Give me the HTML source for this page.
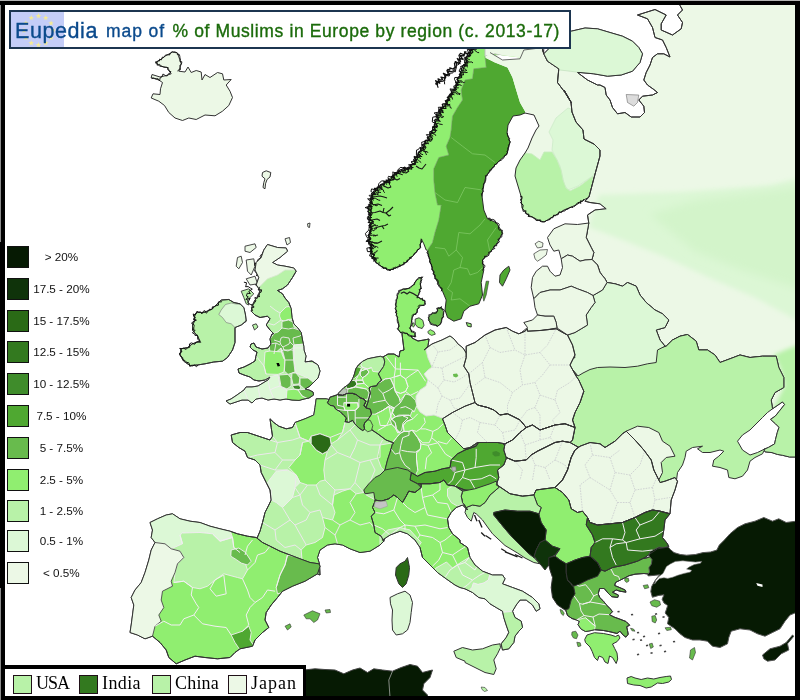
<!DOCTYPE html>
<html lang="en">
<head>
<meta charset="utf-8">
<title>Eupedia map of % of Muslims in Europe by region (c. 2013-17)</title>
<style>
html,body{margin:0;padding:0;background:#fff;}
body{width:800px;height:700px;position:relative;overflow:hidden;font-family:"Liberation Sans",Arial,sans-serif;}
#frame{position:absolute;left:0;top:0;width:800px;height:700px;box-sizing:border-box;border-style:solid;border-color:#000;border-width:5px 5px 4px 5px;pointer-events:none;z-index:5;}
#title{position:absolute;left:9px;top:10px;width:562px;height:39px;box-sizing:border-box;border:2px solid #1c3550;background:#fff;z-index:6;white-space:nowrap;overflow:hidden;}
#title .flag{position:absolute;left:0;top:0;width:53px;height:35px;background:#c4cdf8;}
#title .t{position:absolute;top:1.5px;line-height:35px;-webkit-text-stroke:0.35px currentColor;}
#title .eu{left:4px;font-size:21.5px;color:#0b4a8c;letter-spacing:0.585px;}
#title .mo{left:95px;font-size:17.5px;color:#0b4a8c;letter-spacing:0.917px;}
#title .gr{left:161.5px;font-size:17.5px;color:#1b6b0b;letter-spacing:0.614px;}
#leg{position:absolute;left:0;top:0;z-index:6;font-size:11.7px;color:#111;}
#leg .sw{position:absolute;left:7px;width:22px;height:22px;box-sizing:border-box;border:1px solid #111;}
#leg .lb{position:absolute;left:29.4px;width:64px;text-align:center;line-height:22px;white-space:nowrap;}
#bl{position:absolute;left:5px;top:665px;width:301px;height:31px;box-sizing:border-box;border-top:4px solid #000;border-right:3px solid #000;background:#fff;z-index:6;font-family:"Liberation Serif","Times New Roman",serif;font-size:18px;color:#000;white-space:nowrap;}
#bl .sw{position:absolute;top:6px;width:19px;height:19px;box-sizing:border-box;border:1px solid #201018;}
#bl .lb{position:absolute;top:2px;line-height:24px;}
</style>
</head>
<body>
<svg width="800" height="700" viewBox="0 0 800 700" style="position:absolute;left:0;top:0">
<defs>
<clipPath id="c-norway"><path d="M485,56.2 486.2,67.5 473.8,68.8 472.5,78.8 465,80 461.2,90 462.5,100 457.5,107.5 452.5,116.2 451.2,130 450,137.5 446.2,146.2 448.8,155 438.8,157.5 433.8,168.8 433.8,180 435,192.5 437.5,205 441.2,205 438.8,220 435,232.5 432.5,242.5 427.5,250 426.2,250 423.8,243.8 421.2,238.8 420,247.5 413.8,255 407.5,261.2 400,266.2 390,270 382.5,267.5 375,261.2 371.2,252.5 368.8,240 370,225 368.8,210 370,202.5 375,190 385,182.5 397.5,172.5 411.2,166.2 422.5,147.5 432.5,132.5 437.5,115 447.5,100 455,87.5 460,75 465,62.5 470,51.2 480,40 520,35 535,40 535,52.5 520,57.5 500,55Z"/></clipPath>
<clipPath id="c-france"><path d="M316.2,398.8 315,407.5 313.8,415 305,418.8 295,422.5 292.5,427.5 286.2,428.8 278.8,426.2 273.8,422.5 270,418.8 271.2,427.5 272.5,436.2 270,440 262.5,437.5 255,435 247.5,432.5 240,432.5 231.2,435 232.5,442.5 238.8,447.5 245,451.2 247.5,457.5 255,460 260,465 261.2,472.5 266.2,482.5 270,490 271.2,500 268.8,505 265,512.5 262.5,522.5 260,531.2 257.5,537 255,545 320,575 319.5,564 317.5,557.5 320,550 327.5,545 335,543.8 342.5,545 350,548.8 360,552.5 370,551.2 380,545 383.8,541.2 385,536.2 378.8,532.5 377.5,525 375,516.2 378.8,512.5 376.2,507.5 378.8,501.2 377.5,491.2 370,491.2 367.5,488.8 372.5,486.2 378.8,480 383.8,477.5 388.8,472.5 391.2,460 393.8,452.5 396.2,443.8 387.5,436.2 380,430 373.8,426.2 367.5,425 362.5,423.8 357.5,420 355,416.2 350,416.2 348.8,413.8 345,410 340,406.2 336.2,402.5 332.5,400.5 326.2,398.8Z"/></clipPath>
<clipPath id="c-germany"><path d="M383,357 388,354 394,354 399,357 400,351 404,350 403,342 402,334 403,331 410,332 412,338 418,341 424,340 429,339 428,346 424,350 432,344 442,340 450,336 454,339 458,344 463,348 468,356 466,366 469,374 472,384 475,394 477,403 466,409 454,415 446,420 448,425 450,432 458,440 466,449 465,453.8 457.5,457.5 451.2,463.8 450,471.2 442.5,472.5 435,475 425,476.2 417.5,480 411.2,476.2 407.5,473.8 397.5,471.2 385,473 385,470 387.5,460 390,452.5 392.5,443.8 394,443 386,440 378,434 372,430 370,427 367,418 368,412 365,406 367,400 370,394 368,388 372,382 377,378 379,372 382,366 381,358Z"/></clipPath>
<clipPath id="c-iberia"><path d="M256.2,537.5 247.5,536.2 237.5,533.8 230,531.2 220,528.8 210,526.2 200,522.5 190,521.2 180,518.8 172.5,513.8 166.2,515 157.5,518.8 150,522.5 152.5,530 151.2,537.5 155,542.5 151.2,550 148.8,560 145,572.5 141.2,582.5 135,590 131.2,597.5 133.8,605 132.5,615 131.2,625 130,632.5 137.5,635 145,638.8 152.5,636.2 160,642.5 166.2,650 168.8,657.5 176.2,663.8 185,660 195,656.2 205,657.5 217.5,658.8 230,657.5 235,652.5 240,648.8 252.5,646.2 255,640 262.5,632.5 268.8,627.5 265,620 266.2,612.5 271.2,605 277.5,597.5 282.5,591.2 292.5,586.2 305,581.2 317.5,573.8 320,566.2 318.8,563.8 310,562.5 300,558.8 290,555 280,551.2 270,546.2 262.5,542.5Z"/></clipPath>
<clipPath id="c-gb"><path d="M267.5,244.5 277.5,247.5 286.2,248 287.5,251.2 280,257.5 272.5,262.5 277.5,265 285,266.2 293.8,268 296.2,271.2 292.5,277.5 287.5,285 282.5,288.8 277.5,290.5 282.5,293.8 285,298 288.8,302.5 291.2,308.8 292,317.5 293.8,323.8 297.5,327.5 301.2,332.5 302.5,340 303.8,346.2 304,350 306,356 305,362 312,361 318,365 320,371 318,378 314,382 310,386 305,389 309,390 313,392 313.6,395 309,398 304,399 299,400.4 292,400 286,399 280,400 274,399 268,400 262,398 256,399 252,403 248,400 242,400 236,402 230,404 226,401 231,399 237,395 244,390 246,387 252,387 258,386 263,383 268,380 270,377 265,380 259,381 254,380 250,377 244,375 239,373 238,369 244,367 250,364 255,361 256,356 257,352 253,350 250,347 251,344 254,343 256,347 262,349 268,348 271,344 270,339 272,334 273.8,333.8 270,330 266.2,325 270,318.8 267.5,316.2 260,317.5 255,315 251.2,311.2 252.5,305 255,300 258.8,296.2 260,290 256.2,285 258.8,277.5 255,270 256.2,262.5 261.2,257.5 263.8,250Z"/></clipPath>
<clipPath id="c-sweden"><path d="M427.5,250 432.5,242.5 435,232.5 438.8,220 441.2,205 437.5,205 435,192.5 433.8,180 433.8,168.8 438.8,157.5 448.8,155 446.2,146.2 450,137.5 451.2,130 452.5,116.2 457.5,107.5 462.5,100 461.2,90 465,80 472.5,78.8 473.8,68.8 486.2,67.5 485,56.2 485,57.5 495,62.5 507.5,67.5 512.5,77.5 516.2,90 520,102.5 525,111.2 525,113 520,115 513,116 508,125 507,133 510,142 507,154 498,162 492,168 486,176 484,184 482,196 483.8,210 487.5,218.8 496.2,222.5 502.5,232.5 497.5,242.5 490,252.5 482.5,260 483.8,270 481.2,282.5 482.5,295 478.8,303.8 470,306.2 463.8,311.2 461.2,318.8 453.8,321.2 447.5,317.5 445,310 446.2,300 442.5,291.2 435,277.5 431.2,265 427.5,251.2Z"/></clipPath>
<clipPath id="c-poland"><path d="M466.2,346.2 475,342.5 485,335 495,330 506.2,327.5 512.5,331.2 518.8,333.8 525,331.2 527.5,328.8 527.5,331.2 540,330.5 556.2,328.8 565,333.8 567.5,335 572.5,345 575,355 570,365 576.2,376.2 578.8,380 583.8,391.2 580,402.5 575,412.5 572.5,420 575,427.5 565,423.8 555,425 547.5,427.5 540,430 532.5,425 526.2,427.5 520,420 512.5,416.2 507.5,413.8 500,415 493.8,410 487.5,407.5 477.5,405 475,402.5 472.5,392.5 470,382.5 468.8,373.8 463.8,366.2 466.2,357.5Z"/></clipPath>
<clipPath id="c-slovakia"><path d="M526.2,427.5 532.5,425 540,430 547.5,427.5 555,425 565,423.8 575,427.5 572.5,440 570,442.5 562.5,441.2 555,442.5 545,447.5 537.5,451.2 531.2,455 526.2,460 515,461.2 506.2,457.5 503.8,450 505,443.8 512.5,440 520,432.5Z"/></clipPath>
<clipPath id="c-ireland"><path d="M197.5,312.5 203.8,312.5 211.2,309.5 216.2,305 221.2,300 228.8,299.5 233.8,302.5 240,303.8 243.8,307.5 245.5,315 246.2,321.2 241.2,325 235,327.5 235,335 235,342.5 232.5,350 227.5,357.5 222.5,361.2 213.8,362 205,363.8 197.5,365 190,365.5 183.8,361.2 180,355 181.2,348.8 187.5,347.5 192.5,343.8 200,341.2 197.5,336.2 192.5,330 192.5,325 195,320 193.8,315Z"/></clipPath>
<clipPath id="c-greece"><path d="M572.7,584 587,575.7 596.7,571.2 600.5,564.5 609.5,563.7 620,560 632,560 647,557.8 653,555.5 656,563 654.5,566 650,574.2 644,573.5 635,574.2 629,575.7 624.5,578 620,580.2 615.5,582.5 614.7,585.5 620,587.7 625.2,590 626,592.2 620,591.2 616.2,590 612.5,592.2 618.5,595.2 617.7,597.5 611.7,596.7 608,593 604.2,588.5 599.7,588.5 598.2,593.7 599.7,597.5 603.5,601.2 606.5,605 610.2,608.7 612.5,611.7 609.5,614.7 614,617 620,619.2 626,621.5 629.7,625.2 626.7,626.7 627.5,630.5 628.2,634.2 626,637.2 623,635 620,631.2 617,633.5 611,632 603.5,630.5 594.5,629.7 590,630.8 585.5,631.5 581,629 578,624.5 579.5,621.5 576.5,620 572,618.5 567.5,615.5 566,611 565.2,607.2 568.2,601.2 572,595.2 572.7,588.5Z"/></clipPath>
<clipPath id="c-italy"><path d="M383.8,541.2 381.2,536.2 375,532.5 373.8,525 371.2,516.2 375,512.5 372.5,507.5 375,501.2 375,500 381.2,501.2 388.8,498.8 393.8,495 397.5,497.5 402.5,502.5 406.2,496.2 408.8,491.2 415,492.5 421.2,487.5 421.2,483.8 430,483.8 440,482.5 443.8,480 447.5,485 455,486.2 462.5,491.2 461.2,496.2 462.5,502.5 466.2,507.5 467.5,510 462.5,505 456.2,507.5 451.2,512.5 447.5,518.8 448.8,527.5 452.5,533.8 460,540 460,542.5 467.5,547.5 470,557.5 475,565 482.5,571.2 492.5,575 502.5,575 505,578.8 502.5,583.8 512.5,587.5 522.5,591.2 532.5,597.5 538.8,603.8 540,608.8 536.2,611.2 532.5,605 526.2,600 520,600 516.2,605 512.5,611.2 515,617.5 521.2,621.2 522.5,627.5 518.8,631.2 515,636.2 513.8,642.5 508.8,648.8 502.5,650 501.2,643.8 506.2,637.5 508.8,632.5 506.2,625 503.8,617.5 502.5,611.2 496.2,607.5 490,603.8 485,598.8 478.8,597.5 472.5,592.5 465,588.8 460,587.5 455,585 446.2,578.8 437.5,572.5 430,565 422.5,557.5 420,547.5 415,540 407.5,533.8 400,531.2 390,535 382.5,540Z"/></clipPath>
<clipPath id="c-hungary"><path d="M506.2,457.5 515,461.2 526.2,460 531.2,455 537.5,451.2 545,447.5 555,442.5 562.5,441.2 570,442.5 578.8,447.5 580,446.2 575,450 571.2,457.5 567.5,470 562.5,480 555,487.5 545,488.8 536.2,490 533.8,495 522.5,496.2 510,493.8 498.8,486.2 496.2,485 498.8,477.5 497.5,470 503.8,465 506.2,458.8Z"/></clipPath>
<clipPath id="c-belgium"><path d="M330,397.2 337.5,394.7 342.6,395.3 347.6,393.4 352.6,393.4 356.4,394.7 360.2,397.8 364,399.1 365.8,401.6 364,405.3 365.8,407.9 370.3,409.1 371.5,414.2 369,417.9 367.7,419.8 364.6,423 364,425.5 364.6,429.2 362.7,430.5 358.9,428 355.2,424.2 352.6,420.4 348.9,422.3 345.1,421.7 346.4,417.9 343.8,415.4 340.1,411.6 335.7,409.1 333.8,406 330,405.3 327.5,402.8Z"/></clipPath>
<clipPath id="c-netherlands"><path d="M383.5,357.5 380.3,356.3 374,357.5 367.7,358.8 362.7,361.3 358.3,365.1 355.8,368.9 354.5,373.9 352.6,378.9 350.1,382.7 347.6,385.2 343.8,387.7 341.3,390.3 338.8,392.8 337.5,394.7 342.6,395.3 347.6,393.4 352.6,393.4 356.4,394.7 360.2,397.8 364,399.1 365.8,401.6 364,405.3 365.8,407.9 367.7,402.8 369,397.8 370.3,392.8 369,387.7 371.5,386.5 376.5,385.8 378.4,382.7 381.6,380.2 379.7,376.4 378.4,373.9 380.9,370.1 383.5,366.4 384.7,361.9Z"/></clipPath>
<clipPath id="c-czech"><path d="M475,402.5 477.5,405 487.5,407.5 493.8,410 500,415 507.5,413.8 512.5,416.2 520,420 526.2,427.5 520,432.5 512.5,440 505,443.8 497.5,442.5 487.5,442.5 477.5,442.5 470,447.5 463.8,448.8 455,440 447.5,432.5 445,425 442.5,418.8 452.5,412.5 465,406.2Z"/></clipPath>
<clipPath id="c-finland"><path d="M485,57.5 495,62.5 507.5,67.5 512.5,77.5 516.2,90 520,102.5 525,111.2 534,115 539,126 536,130 532,138 528,148 525,153 520,160 516,168 515,176 518,186 521,196 522,208 528,215 538,220 544,222 554,216 564,210 576,205 584,200 589,197 594,178 600,156 600,150 594,144 584,139 583,130 576,122 572,112 571,102 564,90 571.2,102.5 565,92.5 557.5,82.5 558.8,68.8 547.5,61.2 543.8,53.8 543.8,47.5 523.8,50 520,58.8 502.5,60 490,52.5Z"/></clipPath>
<clipPath id="c-bulgaria"><path d="M587.5,517.5 590,522.5 597.5,525 610,523.8 622.5,522.5 635,517.5 645,512.5 652.5,510 660,511.2 670,513.8 665,520 663.8,530 662.5,537.5 667.5,543.8 668.8,547 657.5,548.8 650,553.8 645,557.5 637.5,561.2 625,565 612.5,567.5 605,571.2 601.2,570 597.5,562.5 590,556.2 591.2,547.5 595,542.5 592.5,535 586.2,525Z"/></clipPath>
<clipPath id="c-austria"><path d="M411.2,472.5 417.5,476.2 425,472.5 435,471.2 442.5,468.8 450,467.5 451.2,460 457.5,453.8 465,450 476.2,446.2 480,440 490,441.2 502.5,442.5 507.5,450 508.8,457.5 503.8,465 502.5,472.5 500,480 490,486.2 481.2,488.8 475,491.2 465,490 455,486.2 447.5,485 443.8,480 440,482.5 430,483.8 421.2,483.8 417.5,483.8 410,480Z"/></clipPath>
<clipPath id="c-russia"><path d="M797,4 680,4 680,5.5 682.5,10 677.5,15 682.5,22.5 681.2,28.8 672.5,35 661.2,30 661.2,23.8 666.2,15 655,9.5 637.5,15 647.5,18.8 652.5,27.5 655,37.5 662.5,40 666.2,47.5 670,57 663.8,53.8 657.5,53.8 652.5,57.5 650,65 646.2,72.5 643.8,80 647.5,85 653.8,89.5 657.5,92.5 652.5,95 642.5,96.2 638.8,100 643.8,106.2 644.5,112.5 640,117 631.2,117 625,112.5 617.5,113.8 612.5,107.5 610,100 606.2,95 605,87.5 600,85 597.5,85 587.5,80 577.5,72.5 580,72.5 593.8,73.8 607.5,76.2 621.2,75 632.5,71.2 640,62.5 642.5,53.8 638.8,47.5 632.5,41.2 622.5,36.2 610,32.5 597.5,28.8 585,28 571.2,31.2 562.5,36.2 552.5,45 543.8,53.8 540,40 543.8,53.8 547.5,61.2 558.8,68.8 557.5,82.5 565,92.5 571.2,102.5 564,90 571,102 572,112 576,122 583,130 584,139 594,144 600,150 600,156 594,178 589,197 585,201.2 590,202.5 600,203.8 606.2,208.8 595,210 587.5,215 588.8,223 586.2,237.5 591.2,247.5 593.8,252.5 592,259.5 597.5,265 600,272.5 605,278.8 607,282.5 615,283.8 622.5,286.2 627.5,282.5 636.2,286.2 640,295 646.2,302.5 655,310 662.5,313.8 668.8,320 665,327.5 656.2,330 660,340 665,346.2 666.2,346.2 672.5,340 680,336.2 687.5,334.5 696.2,341.2 698.8,350 707.5,350 715,355 720,362.5 730,358.8 740,355 750,357.5 762.5,356.2 776.2,356.2 778.8,367.5 783.8,377.5 783.8,387.5 775,392.5 771.2,400 772.5,408.8 782.5,401.9 784.6,404.5 779,411.5 775.5,415.9 770.6,419.4 775.5,423.8 779,427.3 777.3,432.5 775.5,439.5 774.6,443.9 768.5,447.4 763.6,449.5 765,451.8 772,452.6 777.3,454.4 782.5,455.3 789.5,457 798.3,457 797,458Z"/></clipPath>
<clipPath id="c-romania"><path d="M580,446.2 590,442.5 600,443.8 605,447.5 615,441.2 622.5,433.8 626.2,431.2 635,440 643.8,450 651.2,460 653.8,470 658.8,480 660,482.5 665,481.2 675,477.5 677.5,481.2 675,490 671.2,500 670,513.8 660,511.2 652.5,510 645,512.5 635,517.5 622.5,522.5 610,523.8 597.5,525 590,522.5 587.5,517.5 582.5,511.2 577.5,512.5 571.2,508.8 568.8,500 562.5,492.5 555,487.5 562.5,480 567.5,470 571.2,457.5 575,450Z"/></clipPath>
<filter id="bl2.5" x="-20%" y="-20%" width="140%" height="140%"><feGaussianBlur stdDeviation="2.5"/></filter>
<filter id="bl2" x="-20%" y="-20%" width="140%" height="140%"><feGaussianBlur stdDeviation="2"/></filter>
<filter id="bl4" x="-20%" y="-20%" width="140%" height="140%"><feGaussianBlur stdDeviation="4"/></filter>
</defs>
<g stroke-linejoin="round">
<path d="M310,430 345,412 400,372 440,357 470,356 560,340 600,300 680,300 780,350 780,380 700,400 640,440 600,470 600,520 560,540 520,510 470,500 450,480 400,500 380,520 340,530 290,540 285,500 275,450Z" fill="#5a6a55" stroke="none" stroke-width="0"/>
<path d="M316.2,398.8 315,407.5 313.8,415 305,418.8 295,422.5 292.5,427.5 286.2,428.8 278.8,426.2 273.8,422.5 270,418.8 271.2,427.5 272.5,436.2 270,440 262.5,437.5 255,435 247.5,432.5 240,432.5 231.2,435 232.5,442.5 238.8,447.5 245,451.2 247.5,457.5 255,460 260,465 261.2,472.5 266.2,482.5 270,490 271.2,500 268.8,505 265,512.5 262.5,522.5 260,531.2 257.5,537 255,545 320,575 319.5,564 317.5,557.5 320,550 327.5,545 335,543.8 342.5,545 350,548.8 360,552.5 370,551.2 380,545 383.8,541.2 385,536.2 378.8,532.5 377.5,525 375,516.2 378.8,512.5 376.2,507.5 378.8,501.2 377.5,491.2 370,491.2 367.5,488.8 372.5,486.2 378.8,480 383.8,477.5 388.8,472.5 391.2,460 393.8,452.5 396.2,443.8 387.5,436.2 380,430 373.8,426.2 367.5,425 362.5,423.8 357.5,420 355,416.2 350,416.2 348.8,413.8 345,410 340,406.2 336.2,402.5 332.5,400.5 326.2,398.8Z" fill="#b8f2a8" stroke="#333333" stroke-width="1.0"/>
<path d="M313.8,415 316.2,396.2 326.2,397.5 331.2,405 335,407.5 340,412.5 347.5,416.2 350,421.2 345,422.5 342.5,432.5 337.5,440 331.2,443.8 330,437.5 320,433.8 311.2,436.2 308.8,441.2 300,437.5 295,422.5 305,416.2Z" fill="#90ee70" stroke="#f0ecf0" stroke-width="0.9" clip-path="url(#c-france)"/>
<path d="M288.8,467.5 295,460 300,455 302.5,442.5 308.8,441.2 311.2,443.8 316.2,450 322.5,453.8 327.5,451.2 325,460 323.8,470 325,480 320,481.2 316.2,485 307.5,485 300,482.5 296.2,475Z" fill="#90ee70" stroke="#f0ecf0" stroke-width="0.9" clip-path="url(#c-france)"/>
<path d="M333.8,495 342.5,491.2 350,488.8 356.2,493.8 363.8,492.5 366.2,495 380,502.5 380,545 370,555 320,570 302.5,565 301.2,550 306.2,545 315,542.5 322.5,537.5 325,527.5 322.5,517.5 332.5,520 335,512.5 332.5,505Z" fill="#90ee70" stroke="#f0ecf0" stroke-width="0.9" clip-path="url(#c-france)"/>
<path d="M380,445 395,442.5 395,470 385,471.2 381.2,467.5 377.5,457.5Z" fill="#90ee70" stroke="#f0ecf0" stroke-width="0.9" clip-path="url(#c-france)"/>
<path d="M311.2,436.2 320,433.8 330,437.5 331.2,445 327.5,451.2 322.5,453.8 316.2,450 311.2,443.8Z" fill="#2a6a16" stroke="#f0ecf0" stroke-width="0.9" clip-path="url(#c-france)"/>
<path d="M271.2,490 267.5,482.5 276.2,471.2 287.5,470 296.2,475 300,482.5 295,487.5 292.5,497.5 282.5,507.5 276.2,502.5 271.2,500Z" fill="#dcf8d6" stroke="#f0ecf0" stroke-width="0.9" clip-path="url(#c-france)"/>
<path d="M295,422.5 300,437.5 308.8,441.2" fill="none" stroke="#ece8ec" stroke-width="1.0" clip-path="url(#c-france)"/>
<path d="M272.5,436.2 277.5,442.5 292.5,440 300,437.5" fill="none" stroke="#ece8ec" stroke-width="1.0" clip-path="url(#c-france)"/>
<path d="M270,440 277.5,442.5 275,452.5 282.5,460 295,460 300,455 302.5,442.5" fill="none" stroke="#ece8ec" stroke-width="1.0" clip-path="url(#c-france)"/>
<path d="M247.5,457.5 257.5,455 275,452.5" fill="none" stroke="#ece8ec" stroke-width="1.0" clip-path="url(#c-france)"/>
<path d="M260,465 275,470 282.5,460" fill="none" stroke="#ece8ec" stroke-width="1.0" clip-path="url(#c-france)"/>
<path d="M275,470 287.5,470" fill="none" stroke="#ece8ec" stroke-width="1.0" clip-path="url(#c-france)"/>
<path d="M330,437.5 342.5,432.5 345,422.5" fill="none" stroke="#ece8ec" stroke-width="1.0" clip-path="url(#c-france)"/>
<path d="M337.5,440 350,430 355,425" fill="none" stroke="#ece8ec" stroke-width="1.0" clip-path="url(#c-france)"/>
<path d="M331.2,445 337.5,452.5 350,457.5 360,462.5 370,460 380,457.5 380,445" fill="none" stroke="#ece8ec" stroke-width="1.0" clip-path="url(#c-france)"/>
<path d="M350,430 357.5,440 370,445 380,445 382.5,440" fill="none" stroke="#ece8ec" stroke-width="1.0" clip-path="url(#c-france)"/>
<path d="M350,457.5 355,447.5 357.5,440" fill="none" stroke="#ece8ec" stroke-width="1.0" clip-path="url(#c-france)"/>
<path d="M325,460 337.5,452.5" fill="none" stroke="#ece8ec" stroke-width="1.0" clip-path="url(#c-france)"/>
<path d="M325,480 335,490 350,488.8 355,482.5 360,462.5" fill="none" stroke="#ece8ec" stroke-width="1.0" clip-path="url(#c-france)"/>
<path d="M355,482.5 363.8,492.5" fill="none" stroke="#ece8ec" stroke-width="1.0" clip-path="url(#c-france)"/>
<path d="M370,460 375,470 368.8,485" fill="none" stroke="#ece8ec" stroke-width="1.0" clip-path="url(#c-france)"/>
<path d="M316.2,485 320,495 332.5,505 333.8,495 335,490" fill="none" stroke="#ece8ec" stroke-width="1.0" clip-path="url(#c-france)"/>
<path d="M296.2,475 295,487.5 300,495 307.5,485" fill="none" stroke="#ece8ec" stroke-width="1.0" clip-path="url(#c-france)"/>
<path d="M300,495 302.5,505 310,512.5 320,510 322.5,517.5" fill="none" stroke="#ece8ec" stroke-width="1.0" clip-path="url(#c-france)"/>
<path d="M310,512.5 306.2,520 295,525 290,520 282.5,507.5" fill="none" stroke="#ece8ec" stroke-width="1.0" clip-path="url(#c-france)"/>
<path d="M292.5,497.5 300,495" fill="none" stroke="#ece8ec" stroke-width="1.0" clip-path="url(#c-france)"/>
<path d="M262.5,522.5 275,530 290,520" fill="none" stroke="#ece8ec" stroke-width="1.0" clip-path="url(#c-france)"/>
<path d="M275,530 276.2,540 285,547.5 295,545 301.2,550" fill="none" stroke="#ece8ec" stroke-width="1.0" clip-path="url(#c-france)"/>
<path d="M295,525 306.2,545" fill="none" stroke="#ece8ec" stroke-width="1.0" clip-path="url(#c-france)"/>
<path d="M332.5,520 340,525 350,520 360,525 370,522.5 373.8,527.5" fill="none" stroke="#ece8ec" stroke-width="1.0" clip-path="url(#c-france)"/>
<path d="M350,520 355,512.5 350,502.5 356.2,493.8" fill="none" stroke="#ece8ec" stroke-width="1.0" clip-path="url(#c-france)"/>
<path d="M325,527.5 335,535 340,525" fill="none" stroke="#ece8ec" stroke-width="1.0" clip-path="url(#c-france)"/>
<path d="M335,535 337.5,543.8" fill="none" stroke="#ece8ec" stroke-width="1.0" clip-path="url(#c-france)"/>
<path d="M316.2,398.8 315,407.5 313.8,415 305,418.8 295,422.5 292.5,427.5 286.2,428.8 278.8,426.2 273.8,422.5 270,418.8 271.2,427.5 272.5,436.2 270,440 262.5,437.5 255,435 247.5,432.5 240,432.5 231.2,435 232.5,442.5 238.8,447.5 245,451.2 247.5,457.5 255,460 260,465 261.2,472.5 266.2,482.5 270,490 271.2,500 268.8,505 265,512.5 262.5,522.5 260,531.2 257.5,537 255,545 320,575 319.5,564 317.5,557.5 320,550 327.5,545 335,543.8 342.5,545 350,548.8 360,552.5 370,551.2 380,545 383.8,541.2 385,536.2 378.8,532.5 377.5,525 375,516.2 378.8,512.5 376.2,507.5 378.8,501.2 377.5,491.2 370,491.2 367.5,488.8 372.5,486.2 378.8,480 383.8,477.5 388.8,472.5 391.2,460 393.8,452.5 396.2,443.8 387.5,436.2 380,430 373.8,426.2 367.5,425 362.5,423.8 357.5,420 355,416.2 350,416.2 348.8,413.8 345,410 340,406.2 336.2,402.5 332.5,400.5 326.2,398.8Z" fill="none" stroke="#333333" stroke-width="1.0"/>
<path d="M256.2,537.5 247.5,536.2 237.5,533.8 230,531.2 220,528.8 210,526.2 200,522.5 190,521.2 180,518.8 172.5,513.8 166.2,515 157.5,518.8 150,522.5 152.5,530 151.2,537.5 155,542.5 151.2,550 148.8,560 145,572.5 141.2,582.5 135,590 131.2,597.5 133.8,605 132.5,615 131.2,625 130,632.5 137.5,635 145,638.8 152.5,636.2 160,642.5 166.2,650 168.8,657.5 176.2,663.8 185,660 195,656.2 205,657.5 217.5,658.8 230,657.5 235,652.5 240,648.8 252.5,646.2 255,640 262.5,632.5 268.8,627.5 265,620 266.2,612.5 271.2,605 277.5,597.5 282.5,591.2 292.5,586.2 305,581.2 317.5,573.8 320,566.2 318.8,563.8 310,562.5 300,558.8 290,555 280,551.2 270,546.2 262.5,542.5Z" fill="#90ee70" stroke="#333333" stroke-width="1.0"/>
<path d="M145,520 172.5,511.2 180,516.2 230,530 232.5,537.5 220,540.5 212.5,533.8 200,532.5 182.5,533 180,535 182.5,543.8 171.2,548.8 165,543.8 155,542.5 147.5,540Z" fill="#dcf8d6" stroke="#f0ecf0" stroke-width="0.9" clip-path="url(#c-iberia)"/>
<path d="M180,535 182.5,533 200,532.5 212.5,533.8 220,541.2 232.5,537.5 233.8,547.5 240,552.5 245,562.5 247.5,570 242.5,578.8 237.5,577.5 223.8,573.8 215,580 207.5,586.2 200,588.8 192.5,587.5 183.8,581.2 173.8,582.5 175,572.5 177.5,563.8 183.8,557.5 180,551.2 171.2,548.8 182.5,543.8Z" fill="#b8f2a8" stroke="#f0ecf0" stroke-width="0.9" clip-path="url(#c-iberia)"/>
<path d="M231.2,550 238.8,548 245.5,552.5 251.2,561.2 247.5,565 241.2,563 236.2,559.5 230.8,556.2Z" fill="#68bb4d" stroke="#f0ecf0" stroke-width="0.9" clip-path="url(#c-iberia)"/>
<path d="M287.5,555 300,557.5 322.5,562.5 322.5,575 305,582.5 292.5,587.5 282.5,592.5 277.5,593.8 276.2,587.5 280,575 285,565Z" fill="#68bb4d" stroke="#f0ecf0" stroke-width="0.9" clip-path="url(#c-iberia)"/>
<path d="M231.2,635 242.5,631.2 248.8,626.2 251.2,632.5 250,640 255,647.5 240,650 235,642.5Z" fill="#4fa831" stroke="#f0ecf0" stroke-width="0.9" clip-path="url(#c-iberia)"/>
<path d="M155,542.5 165,543.8 171.2,548.8 180,551.2 183.8,557.5 177.5,563.8 175,572.5 171.2,581.2 172.5,586.2 162.5,591.2 161.2,600 163.8,607.5 158.8,615 161.2,621.2 155,626.2 152.5,636.2 145,640 130,637.5 127.5,590 145,540Z" fill="#ecf8e6" stroke="#4a4a4a" stroke-width="0.9" clip-path="url(#c-iberia)"/>
<path d="M173.8,582.5 183.8,581.2 192.5,587.5 191.2,595 196.2,603.8 198.8,607.5 193.8,615 183.8,618.8 180,625 171.2,625 163.8,621.2" fill="none" stroke="#f2eef2" stroke-width="1.0" clip-path="url(#c-iberia)"/>
<path d="M155,626.2 163.8,621.2" fill="none" stroke="#f2eef2" stroke-width="1.0" clip-path="url(#c-iberia)"/>
<path d="M193.8,615 202.5,623.8 215,626.2 226.2,627.5 231.2,635" fill="none" stroke="#f2eef2" stroke-width="1.0" clip-path="url(#c-iberia)"/>
<path d="M215,580 223.8,575 225,585 226.2,593.8 216.2,596.2 210,588.8 215,580" fill="none" stroke="#f2eef2" stroke-width="1.0" clip-path="url(#c-iberia)"/>
<path d="M242.5,578.8 247.5,590 250,597.5 255,602.5 250,607.5 246.2,615 248.8,625 242.5,631.2" fill="none" stroke="#f2eef2" stroke-width="1.0" clip-path="url(#c-iberia)"/>
<path d="M255,602.5 262.5,597.5 267.5,590 275,591.2" fill="none" stroke="#f2eef2" stroke-width="1.0" clip-path="url(#c-iberia)"/>
<path d="M257.5,555 255,562.5 247.5,570" fill="none" stroke="#f2eef2" stroke-width="1.0" clip-path="url(#c-iberia)"/>
<path d="M252.5,540 247.5,546.2 245,555" fill="none" stroke="#f2eef2" stroke-width="1.0" clip-path="url(#c-iberia)"/>
<path d="M270,546.2 265,552.5 257.5,555" fill="none" stroke="#f2eef2" stroke-width="1.0" clip-path="url(#c-iberia)"/>
<path d="M287.5,555 285,565 280,575 276.2,587.5" fill="none" stroke="#f2eef2" stroke-width="1.0" clip-path="url(#c-iberia)"/>
<path d="M232.5,537.5 233.8,547.5 240,552.5" fill="none" stroke="#f2eef2" stroke-width="1.0" clip-path="url(#c-iberia)"/>
<path d="M180,535 182.5,543.8" fill="none" stroke="#f2eef2" stroke-width="1.0" clip-path="url(#c-iberia)"/>
<path d="M212.5,533.8 220,541.2 232.5,537.5" fill="none" stroke="#f2eef2" stroke-width="1.0" clip-path="url(#c-iberia)"/>
<path d="M256.2,537.5 247.5,536.2 237.5,533.8 230,531.2 220,528.8 210,526.2 200,522.5 190,521.2 180,518.8 172.5,513.8 166.2,515 157.5,518.8 150,522.5 152.5,530 151.2,537.5 155,542.5 151.2,550 148.8,560 145,572.5 141.2,582.5 135,590 131.2,597.5 133.8,605 132.5,615 131.2,625 130,632.5 137.5,635 145,638.8 152.5,636.2 160,642.5 166.2,650 168.8,657.5 176.2,663.8 185,660 195,656.2 205,657.5 217.5,658.8 230,657.5 235,652.5 240,648.8 252.5,646.2 255,640 262.5,632.5 268.8,627.5 265,620 266.2,612.5 271.2,605 277.5,597.5 282.5,591.2 292.5,586.2 305,581.2 317.5,573.8 320,566.2 318.8,563.8 310,562.5 300,558.8 290,555 280,551.2 270,546.2 262.5,542.5Z" fill="none" stroke="#333333" stroke-width="1.0"/>
<path d="M383,357 388,354 394,354 399,357 400,351 404,350 403,342 402,334 403,331 410,332 412,338 418,341 424,340 429,339 428,346 424,350 432,344 442,340 450,336 454,339 458,344 463,348 468,356 466,366 469,374 472,384 475,394 477,403 466,409 454,415 446,420 448,425 450,432 458,440 466,449 465,453.8 457.5,457.5 451.2,463.8 450,471.2 442.5,472.5 435,475 425,476.2 417.5,480 411.2,476.2 407.5,473.8 397.5,471.2 385,473 385,470 387.5,460 390,452.5 392.5,443.8 394,443 386,440 378,434 372,430 370,427 367,418 368,412 365,406 367,400 370,394 368,388 372,382 377,378 379,372 382,366 381,358Z" fill="#90ee70" stroke="#333333" stroke-width="1.0"/>
<path d="M426,350 428,358 432,367 428,370 424,374 428,380 426,386 420,390 416,396 416,406 420,412 426,416 434,415 442,418 450,420 490,420 490,330 430,330 429,344Z" fill="#ecf8e6" stroke="#ddd" stroke-width="0.9" clip-path="url(#c-germany)"/>
<path d="M453,374 457,373.6 458.4,376 456,377.4 453.4,376.6Z" fill="#68bb4d" stroke="none" stroke-width="0" clip-path="url(#c-germany)"/>
<path d="M370.3,387.7 378.4,383.3 379.1,382.7 385.3,378.9 390.4,378.3 394.2,386.5 395.4,391.5 399.2,397.8 400.4,400.3 405.5,394 410.5,395.3 415.5,400.3 416.8,405.3 414.3,411.6 411.8,411.6 410.5,415.4 408,417.9 403,423 401.7,430.5 397.9,433 395.4,428 391.6,424.2 390.4,420.4 395.4,416.7 392.3,412.9 394.2,407.9 388.5,406.6 382.8,410.4 375.3,414.2 371.5,414.2 367.7,410.4 364,407.9 366.5,402.8 370.3,397.8Z" fill="#68bb4d" stroke="#f0ecf0" stroke-width="0.9" clip-path="url(#c-germany)"/>
<path d="M391.4,418.9 398.9,415.1 409,415.1 412.8,418.9 406.5,421.4 403.3,425.2 404,431.4 400.2,433.3 396.4,428.9 395.2,422.6Z" fill="#68bb4d" stroke="#f0ecf0" stroke-width="0.9" clip-path="url(#c-germany)"/>
<path d="M386.4,451.6 390.1,447.8 392.6,442.8 396.4,437.7 400.2,433.3 404,431.4 409,431.4 412.1,430.2 417.8,437.7 420.9,444 420.3,449.1 416.5,452.8 416.5,459.1 417.8,470.4 415.3,475.5 406.5,471.7 400.2,470.4 396.4,467.9 391.4,471.1 382.6,471.7 383.8,460.4Z" fill="#68bb4d" stroke="#f0ecf0" stroke-width="0.9" clip-path="url(#c-germany)"/>
<path d="M394.2,377 400.4,375.2 405.5,378.9 408,386.5 405.5,391.5 400.4,393.4 395.4,391.5 394.2,386.5Z" fill="#90ee70" stroke="#f0ecf0" stroke-width="0.9" clip-path="url(#c-germany)"/>
<path d="M384.1,353.8 395.4,368.9" fill="none" stroke="#f2eef2" stroke-width="1.0" clip-path="url(#c-germany)"/>
<path d="M395.4,357.5 395.4,368.9 394.2,377" fill="none" stroke="#f2eef2" stroke-width="1.0" clip-path="url(#c-germany)"/>
<path d="M400.4,362.6 400.4,375.2" fill="none" stroke="#f2eef2" stroke-width="1.0" clip-path="url(#c-germany)"/>
<path d="M395.4,368.9 418.1,370.1" fill="none" stroke="#f2eef2" stroke-width="1.0" clip-path="url(#c-germany)"/>
<path d="M405.5,378.9 410.5,375.2 418.1,370.1 425.6,381.4" fill="none" stroke="#f2eef2" stroke-width="1.0" clip-path="url(#c-germany)"/>
<path d="M379.1,382.7 385.3,378.9 390.4,378.3 394.2,377 400.4,375.2 405.5,378.9 408,386.5 405.5,391.5 410.5,395.3" fill="none" stroke="#f2eef2" stroke-width="1.0" clip-path="url(#c-germany)"/>
<path d="M390.4,378.3 394.2,386.5 389.1,390.3 382.8,393.4 378.4,389" fill="none" stroke="#f2eef2" stroke-width="1.0" clip-path="url(#c-germany)"/>
<path d="M394.2,386.5 395.4,391.5 400.4,393.4 405.5,391.5" fill="none" stroke="#f2eef2" stroke-width="1.0" clip-path="url(#c-germany)"/>
<path d="M382.8,393.4 385.3,400.3 377.8,401.6 372.8,402.8" fill="none" stroke="#f2eef2" stroke-width="1.0" clip-path="url(#c-germany)"/>
<path d="M385.3,400.3 389.1,405.3 394.2,407.9 400.4,402.8 399.2,397.8 395.4,391.5" fill="none" stroke="#f2eef2" stroke-width="1.0" clip-path="url(#c-germany)"/>
<path d="M400.4,402.8 405.5,394" fill="none" stroke="#f2eef2" stroke-width="1.0" clip-path="url(#c-germany)"/>
<path d="M400.4,407.9 405.5,406.6 410.5,409.1 414.3,411.6" fill="none" stroke="#f2eef2" stroke-width="1.0" clip-path="url(#c-germany)"/>
<path d="M388.5,406.6 382.8,410.4 375.3,414.2" fill="none" stroke="#f2eef2" stroke-width="1.0" clip-path="url(#c-germany)"/>
<path d="M388.5,407.2 392.9,409.1 391.6,414.2 389.1,420.4 386.6,425.5 380.3,425.5 377.8,415.4" fill="none" stroke="#f2eef2" stroke-width="1.0" clip-path="url(#c-germany)"/>
<path d="M394.2,407.9 392.3,412.9 395.4,416.7 403,415.4 410.5,415.4" fill="none" stroke="#f2eef2" stroke-width="1.0" clip-path="url(#c-germany)"/>
<path d="M390.4,420.4 395.4,416.7" fill="none" stroke="#f2eef2" stroke-width="1.0" clip-path="url(#c-germany)"/>
<path d="M403,416 408,417.9 403,423 401.7,430.5 397.9,433" fill="none" stroke="#f2eef2" stroke-width="1.0" clip-path="url(#c-germany)"/>
<path d="M377.8,430.5 386.6,425.5 391.6,424.2 395.4,428 397.9,433" fill="none" stroke="#f2eef2" stroke-width="1.0" clip-path="url(#c-germany)"/>
<path d="M410.5,395.3 418.1,391.5" fill="none" stroke="#f2eef2" stroke-width="1.0" clip-path="url(#c-germany)"/>
<path d="M391.4,418.9 395.2,422.6 396.4,428.9 400.2,433.3 404,431.4 403.3,425.2 406.5,421.4 412.8,418.9 417.8,413.8" fill="none" stroke="#f2eef2" stroke-width="1.0" clip-path="url(#c-germany)"/>
<path d="M404,431.4 409,431.4 412.1,430.2 416.5,431.4 420.3,428.9 425.3,422.6 424.1,417.6" fill="none" stroke="#f2eef2" stroke-width="1.0" clip-path="url(#c-germany)"/>
<path d="M412.1,430.2 417.8,437.7 420.9,444 420.3,449.1 416.5,452.8 416.5,459.1 417.8,470.4" fill="none" stroke="#f2eef2" stroke-width="1.0" clip-path="url(#c-germany)"/>
<path d="M400.2,433.3 396.4,437.7 392.6,442.8" fill="none" stroke="#f2eef2" stroke-width="1.0" clip-path="url(#c-germany)"/>
<path d="M409,431.4 409,435.2 402.7,437.7 400.8,445.3 399.6,452.8 395.2,454.1 390.1,447.8" fill="none" stroke="#f2eef2" stroke-width="1.0" clip-path="url(#c-germany)"/>
<path d="M401.4,450.3 407.7,451.6 415.3,452.2 420.3,449.1" fill="none" stroke="#f2eef2" stroke-width="1.0" clip-path="url(#c-germany)"/>
<path d="M399.6,452.8 401.4,459.1 405.2,465.4 410.3,469.2" fill="none" stroke="#f2eef2" stroke-width="1.0" clip-path="url(#c-germany)"/>
<path d="M420.3,428.9 425.3,428.9 432.9,431.4 437.9,428.9 443,423.9" fill="none" stroke="#f2eef2" stroke-width="1.0" clip-path="url(#c-germany)"/>
<path d="M417.8,437.7 419.1,439 422.8,442.8 429.1,442.8 431.6,437.7 432.9,431.4" fill="none" stroke="#f2eef2" stroke-width="1.0" clip-path="url(#c-germany)"/>
<path d="M420.9,444 427.9,445.3 437.9,442.8 431.6,437.7" fill="none" stroke="#f2eef2" stroke-width="1.0" clip-path="url(#c-germany)"/>
<path d="M427.9,445.3 431.6,452.8 426.6,457.9 425.3,469.2" fill="none" stroke="#f2eef2" stroke-width="1.0" clip-path="url(#c-germany)"/>
<path d="M437.9,442.8 445.5,454.1 451.8,457.9" fill="none" stroke="#f2eef2" stroke-width="1.0" clip-path="url(#c-germany)"/>
<path d="M437.9,441.5 446.7,444 451.8,437.7" fill="none" stroke="#f2eef2" stroke-width="1.0" clip-path="url(#c-germany)"/>
<path d="M381.3,411.3 388.9,406.3 391.4,418.9" fill="none" stroke="#f2eef2" stroke-width="1.0" clip-path="url(#c-germany)"/>
<path d="M375,432.7 381.3,437.7 386.4,441.5 392.6,442.8" fill="none" stroke="#f2eef2" stroke-width="1.0" clip-path="url(#c-germany)"/>
<path d="M432,367 442,368 450,364 458,360 466,356" fill="none" stroke="#c4c4cc" stroke-width="0.7" stroke-dasharray="1.6 1.1" clip-path="url(#c-germany)"/>
<path d="M442,368 444,380 438,388 428,380" fill="none" stroke="#c4c4cc" stroke-width="0.7" stroke-dasharray="1.6 1.1" clip-path="url(#c-germany)"/>
<path d="M444,380 454,382 462,378 467,374" fill="none" stroke="#c4c4cc" stroke-width="0.7" stroke-dasharray="1.6 1.1" clip-path="url(#c-germany)"/>
<path d="M438,388 442,396 450,400 460,398 470,384" fill="none" stroke="#c4c4cc" stroke-width="0.7" stroke-dasharray="1.6 1.1" clip-path="url(#c-germany)"/>
<path d="M442,396 438,404 436,414" fill="none" stroke="#c4c4cc" stroke-width="0.7" stroke-dasharray="1.6 1.1" clip-path="url(#c-germany)"/>
<path d="M450,400 454,408 460,410" fill="none" stroke="#c4c4cc" stroke-width="0.7" stroke-dasharray="1.6 1.1" clip-path="url(#c-germany)"/>
<path d="M432,344 438,352 450,350 458,344" fill="none" stroke="#c4c4cc" stroke-width="0.7" stroke-dasharray="1.6 1.1" clip-path="url(#c-germany)"/>
<path d="M438,352 432,367" fill="none" stroke="#c4c4cc" stroke-width="0.7" stroke-dasharray="1.6 1.1" clip-path="url(#c-germany)"/>
<path d="M383,357 388,354 394,354 399,357 400,351 404,350 403,342 402,334 403,331 410,332 412,338 418,341 424,340 429,339 428,346 424,350 432,344 442,340 450,336 454,339 458,344 463,348 468,356 466,366 469,374 472,384 475,394 477,403 466,409 454,415 446,420 448,425 450,432 458,440 466,449 465,453.8 457.5,457.5 451.2,463.8 450,471.2 442.5,472.5 435,475 425,476.2 417.5,480 411.2,476.2 407.5,473.8 397.5,471.2 385,473 385,470 387.5,460 390,452.5 392.5,443.8 394,443 386,440 378,434 372,430 370,427 367,418 368,412 365,406 367,400 370,394 368,388 372,382 377,378 379,372 382,366 381,358Z" fill="none" stroke="#333333" stroke-width="1.0"/>
<path d="M411.2,472.5 417.5,476.2 425,472.5 435,471.2 442.5,468.8 450,467.5 451.2,460 457.5,453.8 465,450 476.2,446.2 480,440 490,441.2 502.5,442.5 507.5,450 508.8,457.5 503.8,465 502.5,472.5 500,480 490,486.2 481.2,488.8 475,491.2 465,490 455,486.2 447.5,485 443.8,480 440,482.5 430,483.8 421.2,483.8 417.5,483.8 410,480Z" fill="#4fa831" stroke="#333333" stroke-width="1.0"/>
<path d="M450,467.5 455,472.5 452.5,480 447.5,485" fill="none" stroke="#f2eef2" stroke-width="1.0" clip-path="url(#c-austria)"/>
<path d="M451.2,460 462.5,462.5 465,470 475,467.5 476.2,457.5 476.2,448.8" fill="none" stroke="#f2eef2" stroke-width="1.0" clip-path="url(#c-austria)"/>
<path d="M455,472.5 465,470" fill="none" stroke="#f2eef2" stroke-width="1.0" clip-path="url(#c-austria)"/>
<path d="M465,470 462.5,477.5 470,480 481.2,478.8 490,475 496.2,478.8" fill="none" stroke="#f2eef2" stroke-width="1.0" clip-path="url(#c-austria)"/>
<path d="M475,467.5 490,465 500,465" fill="none" stroke="#f2eef2" stroke-width="1.0" clip-path="url(#c-austria)"/>
<path d="M462.5,477.5 455,486.2" fill="none" stroke="#f2eef2" stroke-width="1.0" clip-path="url(#c-austria)"/>
<path d="M470,480 475,488.8" fill="none" stroke="#f2eef2" stroke-width="1.0" clip-path="url(#c-austria)"/>
<path d="M411.2,472.5 417.5,476.2 425,472.5 435,471.2 442.5,468.8 450,467.5 451.2,460 457.5,453.8 465,450 476.2,446.2 480,440 490,441.2 502.5,442.5 507.5,450 508.8,457.5 503.8,465 502.5,472.5 500,480 490,486.2 481.2,488.8 475,491.2 465,490 455,486.2 447.5,485 443.8,480 440,482.5 430,483.8 421.2,483.8 417.5,483.8 410,480Z" fill="none" stroke="#333333" stroke-width="1.0"/>
<path d="M572.7,584 587,575.7 596.7,571.2 600.5,564.5 609.5,563.7 620,560 632,560 647,557.8 653,555.5 656,563 654.5,566 650,574.2 644,573.5 635,574.2 629,575.7 624.5,578 620,580.2 615.5,582.5 614.7,585.5 620,587.7 625.2,590 626,592.2 620,591.2 616.2,590 612.5,592.2 618.5,595.2 617.7,597.5 611.7,596.7 608,593 604.2,588.5 599.7,588.5 598.2,593.7 599.7,597.5 603.5,601.2 606.5,605 610.2,608.7 612.5,611.7 609.5,614.7 614,617 620,619.2 626,621.5 629.7,625.2 626.7,626.7 627.5,630.5 628.2,634.2 626,637.2 623,635 620,631.2 617,633.5 611,632 603.5,630.5 594.5,629.7 590,630.8 585.5,631.5 581,629 578,624.5 579.5,621.5 576.5,620 572,618.5 567.5,615.5 566,611 565.2,607.2 568.2,601.2 572,595.2 572.7,588.5Z" fill="#68bb4d" stroke="#333333" stroke-width="1.0"/>
<path d="M576.5,620 585.5,617.7 591.5,623 595.2,626 594.5,630.5 590,632 585.5,632 581,629.3 578,624.5 579.8,621.5Z" fill="#90ee70" stroke="#f0ecf0" stroke-width="0.9" clip-path="url(#c-greece)"/>
<path d="M575,584.7 579.5,586.2 585.5,584.7 590,590 593.7,596 598.2,593.7" fill="none" stroke="#f2eef2" stroke-width="1.0" clip-path="url(#c-greece)"/>
<path d="M593.7,596 590,602 582.5,604.2 579.5,603.5 574.2,596" fill="none" stroke="#f2eef2" stroke-width="1.0" clip-path="url(#c-greece)"/>
<path d="M579.5,603.5 581,611 584,615.5 576.5,620" fill="none" stroke="#f2eef2" stroke-width="1.0" clip-path="url(#c-greece)"/>
<path d="M582.5,604.2 590,602 599,603.5 606.5,605" fill="none" stroke="#f2eef2" stroke-width="1.0" clip-path="url(#c-greece)"/>
<path d="M584,615.5 593,617 599,614 609.5,614.7" fill="none" stroke="#f2eef2" stroke-width="1.0" clip-path="url(#c-greece)"/>
<path d="M585.5,617.7 591.5,623 595.2,626" fill="none" stroke="#f2eef2" stroke-width="1.0" clip-path="url(#c-greece)"/>
<path d="M593,617 595.2,626" fill="none" stroke="#f2eef2" stroke-width="1.0" clip-path="url(#c-greece)"/>
<path d="M611,569 614,575 618.5,576.5 620,580.2" fill="none" stroke="#f2eef2" stroke-width="1.0" clip-path="url(#c-greece)"/>
<path d="M572.7,584 587,575.7 596.7,571.2 600.5,564.5 609.5,563.7 620,560 632,560 647,557.8 653,555.5 656,563 654.5,566 650,574.2 644,573.5 635,574.2 629,575.7 624.5,578 620,580.2 615.5,582.5 614.7,585.5 620,587.7 625.2,590 626,592.2 620,591.2 616.2,590 612.5,592.2 618.5,595.2 617.7,597.5 611.7,596.7 608,593 604.2,588.5 599.7,588.5 598.2,593.7 599.7,597.5 603.5,601.2 606.5,605 610.2,608.7 612.5,611.7 609.5,614.7 614,617 620,619.2 626,621.5 629.7,625.2 626.7,626.7 627.5,630.5 628.2,634.2 626,637.2 623,635 620,631.2 617,633.5 611,632 603.5,630.5 594.5,629.7 590,630.8 585.5,631.5 581,629 578,624.5 579.5,621.5 576.5,620 572,618.5 567.5,615.5 566,611 565.2,607.2 568.2,601.2 572,595.2 572.7,588.5Z" fill="none" stroke="#333333" stroke-width="1.0"/>
<path d="M155,62.5 160,60 165,56.2 172.5,52 177.5,53 181.2,63.8 178.8,71.2 185,72 188,67 191.2,72.5 196.2,70.5 201.2,72 202,80 205,74.5 210,77.5 217.5,72.5 222.5,73.8 223.8,80 231.2,79.5 226.2,85 230,91.2 232.5,97.5 228.8,105.5 222.5,111.2 215,115.8 205,115 196.2,119.5 188.8,118 182.5,120.5 175,118 168.8,112.5 164.5,105.5 158.8,101.2 151.2,98 153,93.8 160,94.5 160.5,88.8 162.5,82.5 158.8,80 151.2,77.5 152,74.5 160,77 166.2,75.5 171.2,73.8 167.5,67.5 160,66.2Z" fill="#ecf8e6" stroke="#333333" stroke-width="1.0"/>
<path d="M262.5,172.5 266.2,170.8 270.8,172.5 270,177 267,179.5 265.5,183.8 265,188.8 263,187.5 263.8,182.5 265,178.8 262,176.2Z" fill="#ecf8e6" stroke="#333333" stroke-width="1.0"/>
<path d="M197.5,312.5 203.8,312.5 211.2,309.5 216.2,305 221.2,300 228.8,299.5 233.8,302.5 240,303.8 243.8,307.5 245.5,315 246.2,321.2 241.2,325 235,327.5 235,335 235,342.5 232.5,350 227.5,357.5 222.5,361.2 213.8,362 205,363.8 197.5,365 190,365.5 183.8,361.2 180,355 181.2,348.8 187.5,347.5 192.5,343.8 200,341.2 197.5,336.2 192.5,330 192.5,325 195,320 193.8,315Z" fill="#b8f2a8" stroke="#333333" stroke-width="1.0"/>
<path d="M221.2,310 225.5,304.5 231.2,303 235,303.8 241.2,304.5 244.5,308.8 246.2,320 241.2,325 235,327.5 231.2,323.8 226.2,322.5 222.5,317.5 218.8,314.5Z" fill="#dcf8d6" stroke="#777" stroke-width="0.6" clip-path="url(#c-ireland)"/>
<path d="M197.5,312.5 203.8,312.5 211.2,309.5 216.2,305 221.2,300 228.8,299.5 233.8,302.5 240,303.8 243.8,307.5 245.5,315 246.2,321.2 241.2,325 235,327.5 235,335 235,342.5 232.5,350 227.5,357.5 222.5,361.2 213.8,362 205,363.8 197.5,365 190,365.5 183.8,361.2 180,355 181.2,348.8 187.5,347.5 192.5,343.8 200,341.2 197.5,336.2 192.5,330 192.5,325 195,320 193.8,315Z" fill="none" stroke="#333333" stroke-width="1.0"/>
<path d="M267.5,244.5 277.5,247.5 286.2,248 287.5,251.2 280,257.5 272.5,262.5 277.5,265 285,266.2 293.8,268 296.2,271.2 292.5,277.5 287.5,285 282.5,288.8 277.5,290.5 282.5,293.8 285,298 288.8,302.5 291.2,308.8 292,317.5 293.8,323.8 297.5,327.5 301.2,332.5 302.5,340 303.8,346.2 304,350 306,356 305,362 312,361 318,365 320,371 318,378 314,382 310,386 305,389 309,390 313,392 313.6,395 309,398 304,399 299,400.4 292,400 286,399 280,400 274,399 268,400 262,398 256,399 252,403 248,400 242,400 236,402 230,404 226,401 231,399 237,395 244,390 246,387 252,387 258,386 263,383 268,380 270,377 265,380 259,381 254,380 250,377 244,375 239,373 238,369 244,367 250,364 255,361 256,356 257,352 253,350 250,347 251,344 254,343 256,347 262,349 268,348 271,344 270,339 272,334 273.8,333.8 270,330 266.2,325 270,318.8 267.5,316.2 260,317.5 255,315 251.2,311.2 252.5,305 255,300 258.8,296.2 260,290 256.2,285 258.8,277.5 255,270 256.2,262.5 261.2,257.5 263.8,250Z" fill="#b8f2a8" stroke="#333333" stroke-width="1.0"/>
<path d="M245,246.2 255,243.8 256.2,247.5 250,252.5 245,251.2Z" fill="#ecf8e6" stroke="#333333" stroke-width="0.9"/>
<path d="M237.5,257.5 241.2,256.2 242.5,262.5 238.8,268.8 236.2,266.2Z" fill="#ecf8e6" stroke="#333333" stroke-width="0.9"/>
<path d="M246.2,260 253.8,258.8 255,266.2 251.2,275 247.5,271.2Z" fill="#ecf8e6" stroke="#333333" stroke-width="0.9"/>
<path d="M246.2,278.8 255,276.2 257.5,283.8 250,285Z" fill="#ecf8e6" stroke="#333333" stroke-width="0.9"/>
<path d="M241.2,291.2 248.8,288.8 253.8,293.8 247.5,300 248.8,305 246.2,303.8 243.8,297.5Z" fill="#b8f2a8" stroke="#333333" stroke-width="0.9"/>
<path d="M252.5,325 256.2,323.8 258,327 254.5,330Z" fill="#b8f2a8" stroke="#333333" stroke-width="0.9"/>
<path d="M285,238.8 289.5,237.5 290.5,242.5 287,245Z" fill="#ecf8e6" stroke="#333333" stroke-width="0.9"/>
<path d="M307.5,223.8 310,223 309.5,227.5 308,227Z" fill="#ecf8e6" stroke="#333333" stroke-width="0.9"/>
<path d="M264.4,249.7 264.4,252.3 262.5,252.7 262.4,253.5 261.1,254.8 260.5,256.1 260.1,256.7 261.6,259.1 259,258.5 257.6,260.2 258.1,263.1 257.6,263.9 254.7,263.3 254.8,265.7 256.9,267.5 256.6,269.4 254.4,270.9 257.1,270.2 255.9,272.9 258.3,273.8 256.1,275.3 259.6,275.9 259.2,277.7 258.4,278.6 259.9,280 257.5,281.7 257.2,283 256.3,284.3 255.5,284.8 257.9,284.8 259.9,286.9 258.1,290 261.6,289.8 261.1,292.2 258.8,292.8 258.9,293.5 257.5,295.5 259.8,296.6 257,296.7 257.2,298.3 254.9,297.5 255.8,300.9 254.9,302.2 254.1,303.4 253.3,304.5 251.4,305 253.5,305.9 253.9,307.3 251.2,307.9 252.5,310.3 252.6,311.2" fill="none" stroke="#111" stroke-width="1.0"/>
<path d="M243.9,282.2 246.5,282.7 245.9,285.9 245.5,286.7 248.2,286.6 250.3,288 252.3,289.2 248.8,291.3 250.3,293.6 247.3,293.2 246.4,295.9 248.3,296.8 245.9,299.5 250.2,298.4 247.9,302.2 248.8,303.6 250.8,304.6 251.8,304.8" fill="none" stroke="#111" stroke-width="1.0"/>
<path d="M222.1,301.4 221.2,301.9 218.4,301.9 218.3,303.1 218.5,305.1 216.1,305.7 214.8,306.1 214.8,306.6 212,307.1 213,308.5 211.2,309.5 209.4,309.2 208.6,310.5 208.4,311.1 206.2,313.2 204.9,310.7 203.5,311.1 201.9,313.9 200.6,312.2 200.7,311.9 198.3,312.1 197.3,311 195.9,313.4 195.2,315.5 193.2,313.9 193.7,316.1 195.5,317.4 193.1,319.2 196.4,320.2 193.1,321.5 193.4,321.5 191.5,323.2 194.1,324.8 194,326.5 193.7,328 193.9,328.8 192.4,329.2 195.2,330.4 192.4,332.7 194.9,334.3 195.1,335.5 197.4,335.1 197.9,336.8 197.7,338.3 197.5,339.1 198.4,339.7 200.7,342.3 198.6,342.1 197.8,341.7 195.5,342.4 195.4,343.4 194.6,344.3 191.6,342.9 190,343.5 189.4,344 189.8,347.2 186.9,348.2 186.5,348.7 186.1,349.4 183.5,348.2 181.8,348.6 179.7,348.4 180.8,349.6 181.9,352 181.9,351.9 179.7,353 179.5,354.6 180.6,355.4 181.7,357 182.7,357.7 183,360.4 184.1,359.9 185.8,361.6 186.9,362.4 188.7,362.7 189.1,363.3 189.7,366.3 191.2,365.9 192.7,365.9 194.4,365.1 196.5,366.6 198.1,365.1" fill="none" stroke="#111" stroke-width="1.0"/>
<path d="M258.8,287.5 267.5,278.8 277.5,275 285,270 297.5,270 300,240 255,240 250,275Z" fill="#ecf8e6" stroke="#d8e8d0" stroke-width="0.9" clip-path="url(#c-gb)"/>
<path d="M280,313 286,307 289,306.5 293,310 293,319 288,319.5 284,321 281,320 279.5,316Z" fill="#90ee70" stroke="#f0ecf0" stroke-width="0.9" clip-path="url(#c-gb)"/>
<path d="M282,321.5 288.5,320 293,322 294,327 300,330 302,334 304,338 304,344 294,345 293,352 293,359 288,360 284,359 282,354 281,348 274,354 270,353 269,344 270,339 274.5,333 278,332 282,328Z" fill="#68bb4d" stroke="#f0ecf0" stroke-width="0.9" clip-path="url(#c-gb)"/>
<path d="M294,345 306,344 307,350 306,356 302,361 304,364 298,365 295,366 294,360 294,352Z" fill="#dcf8d6" stroke="#f0ecf0" stroke-width="0.9" clip-path="url(#c-gb)"/>
<path d="M294,348 305,348 308,356 305,362 324,366 324,378 314,383 308,378 296,373 294,360Z" fill="#dcf8d6" stroke="#f0ecf0" stroke-width="0.9" clip-path="url(#c-gb)"/>
<path d="M265,352 270,351 282,352 285,360 284,372 278,374.4 266,374 264,366Z" fill="#90ee70" stroke="#f0ecf0" stroke-width="0.9" clip-path="url(#c-gb)"/>
<path d="M282.4,350 293,350 293.6,360 295,372 288,374.4 284.4,371 285,360Z" fill="#68bb4d" stroke="#f0ecf0" stroke-width="0.9" clip-path="url(#c-gb)"/>
<path d="M220,406 224,396 244,388 258,385 270,376.4 278,375 280,386 287,390 286,402 260,406Z" fill="#dcf8d6" stroke="#f0ecf0" stroke-width="0.9" clip-path="url(#c-gb)"/>
<path d="M279,375 288,374.4 291,378 291,386 287,389 281,386.4Z" fill="#68bb4d" stroke="#f0ecf0" stroke-width="0.9" clip-path="url(#c-gb)"/>
<path d="M292,373 296,373 300,378 299,384 293,384.4 291.6,378Z" fill="#68bb4d" stroke="#f0ecf0" stroke-width="0.9" clip-path="url(#c-gb)"/>
<path d="M300,378 308,378 314,383 308,388 305,389.4 300,385Z" fill="#68bb4d" stroke="#f0ecf0" stroke-width="0.9" clip-path="url(#c-gb)"/>
<path d="M292.4,385.6 299,385 301,388 299,389.6 294,389Z" fill="#3f8c2b" stroke="#f0ecf0" stroke-width="0.9" clip-path="url(#c-gb)"/>
<path d="M298,390 306,389.2 316,391 316,397 308,399 302,396Z" fill="#68bb4d" stroke="#f0ecf0" stroke-width="0.9" clip-path="url(#c-gb)"/>
<path d="M287,390 294,389.2 298,390 302,396 308,399 304,402 286,402Z" fill="#90ee70" stroke="#f0ecf0" stroke-width="0.9" clip-path="url(#c-gb)"/>
<path d="M276.4,363 279,363 280,366 277.6,366.4Z" fill="#000" stroke="none" stroke-width="0"/>
<path d="M485,56.2 486.2,67.5 473.8,68.8 472.5,78.8 465,80 461.2,90 462.5,100 457.5,107.5 452.5,116.2 451.2,130 450,137.5 446.2,146.2 448.8,155 438.8,157.5 433.8,168.8 433.8,180 435,192.5 437.5,205 441.2,205 438.8,220 435,232.5 432.5,242.5 427.5,250 426.2,250 423.8,243.8 421.2,238.8 420,247.5 413.8,255 407.5,261.2 400,266.2 390,270 382.5,267.5 375,261.2 371.2,252.5 368.8,240 370,225 368.8,210 370,202.5 375,190 385,182.5 397.5,172.5 411.2,166.2 422.5,147.5 432.5,132.5 437.5,115 447.5,100 455,87.5 460,75 465,62.5 470,51.2 480,40 520,35 535,40 535,52.5 520,57.5 500,55Z" fill="#90ee70" stroke="none" stroke-width="0"/>
<path d="M485,56.2 485,45 540,35 540,65 510,57.5 495,53.8Z" fill="#ecf8e6" stroke="#bbb" stroke-width="0.9" clip-path="url(#c-norway)"/>
<path d="M427.5,250 432.5,242.5 435,232.5 438.8,220 441.2,205 437.5,205 435,192.5 433.8,180 433.8,168.8 438.8,157.5 448.8,155 446.2,146.2 450,137.5 451.2,130 452.5,116.2 457.5,107.5 462.5,100 461.2,90 465,80 472.5,78.8 473.8,68.8 486.2,67.5 485,56.2 485,57.5 495,62.5 507.5,67.5 512.5,77.5 516.2,90 520,102.5 525,111.2 525,113 520,115 513,116 508,125 507,133 510,142 507,154 498,162 492,168 486,176 484,184 482,196 483.8,210 487.5,218.8 496.2,222.5 502.5,232.5 497.5,242.5 490,252.5 482.5,260 483.8,270 481.2,282.5 482.5,295 478.8,303.8 470,306.2 463.8,311.2 461.2,318.8 453.8,321.2 447.5,317.5 445,310 446.2,300 442.5,291.2 435,277.5 431.2,265 427.5,251.2Z" fill="#4fa831" stroke="none" stroke-width="0"/>
<path d="M500,275 503.8,270 508.8,266.2 510,270 506.2,278.8 502.5,286.2 499.5,282.5Z" fill="#4fa831" stroke="#333333" stroke-width="1.0"/>
<path d="M486.2,281.2 488.8,281.2 486.2,295 483.8,301.2 483,297.5Z" fill="#4fa831" stroke="#333333" stroke-width="0.6"/>
<path d="M466.2,322.5 471.2,323.8 471.2,327 467.5,326.2Z" fill="#90ee70" stroke="#333333" stroke-width="1.0"/>
<path d="M485,57.5 495,62.5 507.5,67.5 512.5,77.5 516.2,90 520,102.5 525,111.2 534,115 539,126 536,130 532,138 528,148 525,153 520,160 516,168 515,176 518,186 521,196 522,208 528,215 538,220 544,222 554,216 564,210 576,205 584,200 589,197 594,178 600,156 600,150 594,144 584,139 583,130 576,122 572,112 571,102 564,90 571.2,102.5 565,92.5 557.5,82.5 558.8,68.8 547.5,61.2 543.8,53.8 543.8,47.5 523.8,50 520,58.8 502.5,60 490,52.5Z" fill="#ecf8e6" stroke="none" stroke-width="0"/>
<path d="M568,108 556,118 549,132 553,140 552,150 556,158 560,166 562,174 564,184 568,190 578,186 588,179 593,176 604,154 604,146 588,136 580,120 574,110Z" fill="#dcf8d6" stroke="#cfeccb" stroke-width="0.9" clip-path="url(#c-finland)"/>
<path d="M525,153 532,154 540,160 544,152 552,152 557,160 561,170 563,180 566,188 570,191 580,186 593,176 592,202 546,226 520,214 512,176 518,158Z" fill="#b8f2a8" stroke="#c8ecc0" stroke-width="0.9" clip-path="url(#c-finland)"/>
<path d="M525,113 520,115 513,116 508,125 507,133 510,142 507,154 498,162 492,168 486,176 484,184 482,196 483.8,210 487.5,218.8 496.2,222.5 502.5,232.5 497.5,242.5 490,252.5 482.5,260 483.8,270 481.2,282.5 482.5,295 478.8,303.8 470,306.2 463.8,311.2 461.2,318.8 453.8,321.2 447.5,317.5 445,310 446.2,300 442.5,291.2 435,277.5 431.2,265 427.5,251.2" fill="none" stroke="#2a2a2a" stroke-width="1.0"/>
<path d="M525,113 534,115 539,126 536,130 532,138 528,148 525,153 520,160 516,168 515,176 518,186 521,196 522,208 528,215 538,220 544,222 554,216 564,210 576,205 584,200 589,197" fill="none" stroke="#2a2a2a" stroke-width="1.0"/>
<path d="M589,197 594,178 600,156 600,150 594,144 584,139 583,130 576,122 572,112 571,102 564,90 571.2,102.5 565,92.5 557.5,82.5 558.8,68.8 547.5,61.2 543.8,53.8 543.8,47.5 523.8,50 520,58.8 502.5,60 490,52.5" fill="none" stroke="#444" stroke-width="0.8"/>
<path d="M427.5,250.5 426.2,250 423.8,243.8 421.2,238.8 420,247.5 413.8,255 407.5,261.2 400,266.2 390,270 382.5,267.5 375,261.2" fill="none" stroke="#2a2a2a" stroke-width="1.0"/>
<path d="M374.1,261.5 374,260.2 374.7,259.4 371.8,258.2 372.5,257.5 374.3,255.1 373.3,254.2 372.3,253.8 371.5,251.8 371,251 371.5,250.7 371.4,248.8 369.8,248.8 371.4,246.6 370.6,245 370.3,243.8 369,243.1 368.9,241.7 370.5,241.4 367.5,240.5 370.6,239.1 369.4,238 369.1,236.7 368.6,235.2 369.6,233.7 370.1,232.5 370.8,231.3 370.1,231.3 371,229.1 371.2,228.5 370.5,227.8 371.1,226.1 369.2,225.6 371.1,223 368.3,222.4 369.4,222.1 368.9,220.1 370.9,219.8 369.9,218.7 370.2,217.1 370.6,215 369.1,213.9 368.4,214.1 369.4,213 367.8,211.4 369.2,210.5 367.5,208 368.6,206.7 370.8,206.6 369.5,204.9 370.3,203.7 370.3,202.4 371.9,201.9 370.8,199.8 370.4,199 373.4,198.6 372.2,197.5 372.5,195.5 371.6,193.7 373.8,194.2 374.5,192.5 375.1,191.6 375.8,190.2 374.5,188.3 377.9,188.6 377.4,187.1 379,187.4 379.5,186 380.8,185 381.4,184.3 383,185.2 384.4,183.2 384.3,182.2 386.4,182.8 386.1,180.1 387.9,181.1 388.3,179.1 390.5,179.6 391.2,179.2 391.5,176.5 393.5,177.5 392.6,175.1 394.3,175.2 396.6,174.6 395.6,172.6 398.3,173.3 398.8,173.1 398.8,170.4 400.8,172.1 401.4,170.1 402.5,169.9 404,171.2 404.7,167.2 407.1,169.6 407.5,167.7 408.3,169.2 409.9,167.8 410.4,167.2 410.5,165.8 410.7,165.2 412.6,164.5 413.7,164.2 415.1,162.6 415.9,161.3 416.3,160.6 414.3,157.7 415.1,157.5 417.4,157.1 417.5,155.1 418.3,155.2 418.2,152.8 419.5,152.3 419.3,151.8 421,150.3 420.4,148.6 423.4,148.9 423.1,148.7 423.8,146.3 422.3,144.9 423.8,144 424.9,143.4 426.3,143.6 424.9,141.1 425.7,140.3 429.5,140 427.3,137.7 428.5,137.4 429.5,136 430.6,135.8 430.1,134.1 430.8,132.7 433.1,133 431.3,131.4 432.8,129.9 434.4,129.4 434.9,128 433.9,126.8 434.6,125.2 434.6,124 434.9,123.5 435.7,121.8 434.3,120.5 436.1,119.1 438,119.1 438.3,117.3 436.3,116 436.5,114 439,113.9 439.8,113.4 440.3,112.4 439,110.1 439.1,109.4 442,110.1 440.6,107.7 443.7,108.1 442.3,104.6 443.3,103.8 445.6,103.9 446.9,103.8 446.7,103.2 447.6,101.5 447.9,100.9 449.2,98.9 447.3,97.3 449.8,96.6 449,95.8 449.9,94.2 452,94.4 451.4,92.6 452,91.5 451.8,89.9 455.1,90.6 454.9,89.4 455.8,87.5 456,86.6 455.9,85 457.5,85.1 455.6,82.1 458.7,82.4 457.7,80.3 457,79.4 457.7,77.9 458.3,77.4 460.4,75.8 459.4,74.5 460.4,73.3 461.1,73.2 460.2,71.9 461.7,70.6 461.1,69.1 462.3,67.6 462.3,65.9 463.6,65.7 464.2,64.3 465.7,64 465.1,62.2 466.6,62 467,60 466.2,59.4 466.3,57.3 468.3,56.5 469,56.6 467.3,54.5 468.1,52.7 470.9,52.3 469.5,50.3 470.2,50 471.7,50.4 471.5,47.3 472.3,47.4 474.1,46.8 473,45 475.1,45 475.3,43.5 477.9,44.6 477.3,43" fill="none" stroke="#111" stroke-width="1.3"/>
<path d="M421.8,239.5 421.3,240.7 421.6,242.5 419.8,244.1 420,244.5 420.2,245.9 420.8,247.2 419.1,249.4 417.5,249.6 417.2,250 416.6,252.2 414.9,253 414.6,253 413.5,255.1 413.3,255.5 412.5,256.4 410.1,257.5 410.4,258.3 408.7,259 407.5,260.2 407.6,261.1 406.4,261.7 405.9,263 404.6,262.5 403.5,264.8 402.3,265.1 401.3,265.4 400,265.2 399.2,266.7 397.7,266.8 396,268 395,268.4 394.1,267.7 393.2,269.6 390.9,269.1 390.3,270.5 388.6,270.2 386.9,269.9 385.8,267.8 384.5,267.7 383.8,268.8 382.5,266.6 380.9,266.4 380.4,265.4 379.8,265.7 379.1,264.8 377.1,263.3 377.3,263.5 375.8,262.9 375.5,260.9" fill="none" stroke="#111" stroke-width="1.0"/>
<path d="M375.4,261.8 376.4,259.8 375,258 371.9,257.3 371.3,256.1 371.1,255.1 371.6,251.7 370.1,251.6 372.1,248.2 371.8,247.7 373.6,246.4 372.6,244.5 368.7,244 369,241 368.2,239.9 370.7,238.7 370.3,237.6 367.9,235.5 371.3,233.6 369.6,231.5 370.4,230.4 372.3,228.2 369.6,226.5 371.2,224.3 372.1,223.6 373.3,222.1 370.2,219.5 368.7,218.4 368,216.5 371.6,214.7 372.1,213.5 371,211.3 370.3,210.1 371.9,208.1 370.2,206.8 368.4,204.9 371.7,203.4 372.5,203.6 371.2,200.8 369.9,198.9 371,198.2 371.5,195.3 372.1,194.8 374.5,192.6 373.3,191.2 376.5,190.2 378.4,190.8 377.3,188.1 379.5,187 381.5,189.4 380.5,185.1 382.3,184.1 384.3,184.9 383.9,181.4 386.6,181.7 389.9,182.9 389.6,180.2 390.6,180.6 393.6,179.6 394.8,178.5 393.9,176 394.6,173.5 394.8,173.1 396.7,172.4 398.3,172.3 399.3,170 401.4,169.6 403.6,168.1 405.2,170.8 406.3,168.2 407.6,168.2 411.7,169.1 411.7,166.9 410.7,164.9 412.8,164 415.6,164.2 413.6,159.4 415.9,160.7 416.7,159.6 418.3,156.7 420.4,156.7 418.2,154.3 418.9,152 421.4,151.7 420.7,150.7 424.5,149.4 425.2,148.5 425.9,147.2 424,144.5 425,144.3 424.7,141.6 427.1,140.3 430.7,141.3 432.1,139 432.5,138.7 430,135.4 430.8,134 434.4,132.5 435.6,131.7 435.3,129.3 432.9,127.1 437.5,126.5 437,125.2 434.8,122.2 436,120.9 439.4,120.9 437.3,117.5 439,117.8 436.4,115.2 441.4,114.9 439,111.3 443.3,112.6 441.4,109.6 440.8,108.5 446,108.5 445.3,105.4 445.7,103.9 447.7,104.7 446.2,101.6 447.3,99.7 448.1,98.6 448.8,96.1 450.2,96 452.5,94.5 452.6,92.7 453.4,92.2 453.9,91.7 454.5,89.8 453.9,86.3 455,85.7 458.3,85.1 457,82.8 458.9,81.2 457.2,79.2 458.3,78.4 461.7,77.5 461.4,75 463.5,74.7 462.8,72.5 463,70.4 463.3,69 464.3,66.7 465.9,65.7 467.3,65.7 466.6,62.2 467.9,62.9 465.4,59.4 465.6,58.2 466.6,56.1 470.7,55.8 468.2,53.3 470.8,54 473,52.1 471.3,49 472.5,49.1 476.3,49.3 473.7,45.9 476,46 475.8,43.7 478.6,44.6" fill="none" stroke="#111" stroke-width="1.1"/>
<path d="M374,261.5 376.1,258.2 372.4,256.9 369.5,255.8 371.2,251.7 367.5,251.6 366.8,248.2 370.9,247.3 371.9,242.5 369.5,241.7 365.9,241.4 368.4,239 366.3,236.2 365.4,233.4 368.5,230.4 369.1,228.9 369.2,226.7 369,225.6 372.4,221.3 371.2,220 367.6,219.4 367.3,217.7 370.3,214.5 370.7,212.3 371.3,209.2 365.1,207.6 371.7,205.4 372.4,203.4 367.6,198.8 372.6,199.3 369.1,195.4 375.9,194.5 370.9,191.5 371.6,188.9 376.8,190.3 378.1,187.4 378.8,183.7 380.1,182.2 381.2,181.2 382.9,180.8 389,182.5 388.1,177.4 388.5,176.3 393.5,177.9 392.8,171.9 393.6,172.3 397.7,173.7 397.6,170.2 400.2,167.5 402.6,167.5 404.6,167.5 408.3,170.2 410,166.5 408.6,164.7 414.6,164.7 411,161.9 416,160.1 414,156.3 418.6,157.6 416.4,155.2 416.5,150.1 418.4,149.5 419.8,147.4 422.2,147.9 421.7,143.5 421.6,142.3 426.5,140.9 427.3,140.5 430.1,140 426.4,134.6 429.7,134.8 429.7,131.6 432.7,131.2 432.5,126.7 437,126.2 435.7,123.7 432.3,121.9 432.7,117.2 437.9,116.2 434.1,113 438.4,112.2 439.1,109.1 438.3,107.3 443.9,107.1 444.8,105.7 446.7,103.6 445.1,100.5 449.8,100.3 447.9,96.9 451.3,97.2 450.7,95 451.8,92.6 450,88.9 456.7,89.8 455.7,88.1 456.8,85.6 456,82.1 454.5,79.3 454.8,77.5 458.2,77.4 460.6,75.3 461.3,71.9 459,71.2 460.8,67.6 460.5,66.5 466.3,65 464.4,61.1 464.3,59.5 464.1,57.8 469.2,56.4 470,56 468.9,53.5 467.3,49.5 473.3,49.8 474.3,47.3 472.3,45.2 474.8,44 475.4,41" fill="none" stroke="#111" stroke-width="1.0"/>
<path d="M373.057,259.146 375.4,258.4 376.9,258 378.6,258.1" fill="none" stroke="#111" stroke-width="1.0"/>
<path d="M372.54,257.679 374,255.6 374.6,253.6 375.7,252.7 376.4,251 377.8,250.8" fill="none" stroke="#111" stroke-width="1.0"/>
<path d="M371.396,255.331 373.5,253.4 374.8,252.2" fill="none" stroke="#111" stroke-width="1.0"/>
<path d="M370.396,253.095 372.1,252.2 372.6,250.7" fill="none" stroke="#111" stroke-width="1.0"/>
<path d="M369.894,250.563 371.9,248.7 373.4,248.8 374.5,247.2 375.9,247.1" fill="none" stroke="#111" stroke-width="1.0"/>
<path d="M369.273,247.247 371.3,248.2 372.3,248.5" fill="none" stroke="#111" stroke-width="1.0"/>
<path d="M368.793,244.746 371.5,245.8 373,245.2 374.8,246.3 376.5,246.5 378.3,247.7" fill="none" stroke="#111" stroke-width="1.0"/>
<path d="M368.281,242.461 370.8,241.8 372.4,242 374.3,243 375.9,243 377.6,243.3" fill="none" stroke="#111" stroke-width="1.0"/>
<path d="M367.962,240.546 369.7,239.7 370.6,238.7" fill="none" stroke="#111" stroke-width="1.0"/>
<path d="M368.043,237.211 369.9,238 370.9,238.4" fill="none" stroke="#111" stroke-width="1.0"/>
<path d="M368.202,234.943 370.8,235.4 372.5,235.2 374.2,235 375.8,236.1" fill="none" stroke="#111" stroke-width="1.0"/>
<path d="M368.519,232.973 371,231.3 372.5,230.3 373.9,230.8 375.5,228.8 377,228.6" fill="none" stroke="#111" stroke-width="1.0"/>
<path d="M368.727,230.488 371.4,229.7 373.4,228.4" fill="none" stroke="#111" stroke-width="1.0"/>
<path d="M368.84,227.781 371.4,226.6 373.1,225.9 374.7,225.4 376.2,225.9 377.8,225.4" fill="none" stroke="#111" stroke-width="1.0"/>
<path d="M369.054,224.675 371.9,226.3 373.7,225.9" fill="none" stroke="#111" stroke-width="1.0"/>
<path d="M368.861,222.155 371.4,223.8 372.8,222.9 374.4,224.8 375.9,225" fill="none" stroke="#111" stroke-width="1.0"/>
<path d="M368.688,219.591 371,220.9 372.4,220.6 373.8,221.8" fill="none" stroke="#111" stroke-width="1.0"/>
<path d="M368.445,217.795 370.7,217.6 372,217.4" fill="none" stroke="#111" stroke-width="1.0"/>
<path d="M368.211,214.853 370.2,214.4 371.4,215.9" fill="none" stroke="#111" stroke-width="1.0"/>
<path d="M368.124,212.017 369.9,212.9 370.8,213.6" fill="none" stroke="#111" stroke-width="1.0"/>
<path d="M367.812,209.848 370,209.7 371.2,210.4" fill="none" stroke="#111" stroke-width="1.0"/>
<path d="M368.269,207.866 370.8,206.2 372.1,207.1" fill="none" stroke="#111" stroke-width="1.0"/>
<path d="M368.755,204.465 371.1,206.6 372.8,206.6" fill="none" stroke="#111" stroke-width="1.0"/>
<path d="M369.091,202.084 371.6,202.7 372.9,204.5 374.5,204.7 375.9,205.8 377.7,205.4" fill="none" stroke="#111" stroke-width="1.0"/>
<path d="M370.052,199.681 372.5,199.7 373.7,200.3" fill="none" stroke="#111" stroke-width="1.0"/>
<path d="M371.052,197.181 373.6,198.1 375.4,198.3 376.9,199.2 378.4,200 380.2,200.4" fill="none" stroke="#111" stroke-width="1.0"/>
<path d="M372.027,194.769 374.3,194.5 375.4,194.8" fill="none" stroke="#111" stroke-width="1.0"/>
<path d="M373.071,192.129 375.4,193.3 376.7,194.3 378.3,194.6" fill="none" stroke="#111" stroke-width="1.0"/>
<path d="M374.533,189.116 375.6,191.6 376.7,192.4 377.5,193.8 378.1,195.3" fill="none" stroke="#111" stroke-width="1.0"/>
<path d="M376.674,187.555 377.4,190.2 378.4,191.5 378.4,193.5" fill="none" stroke="#111" stroke-width="1.0"/>
<path d="M378.686,186.051 379.8,188.5 379.9,190.7" fill="none" stroke="#111" stroke-width="1.0"/>
<path d="M380.553,184.606 381.8,186.9 381.9,188.9 383.3,189.9 383.6,191.6 384.9,192.7" fill="none" stroke="#111" stroke-width="1.0"/>
<path d="M382.74,183.035 383.6,185.5 384.3,187.1" fill="none" stroke="#111" stroke-width="1.0"/>
<path d="M384.532,181.616 386,183.5 386.7,184.7" fill="none" stroke="#111" stroke-width="1.0"/>
<path d="M386.823,179.868 387.9,181.8 388.1,183.4" fill="none" stroke="#111" stroke-width="1.0"/>
<path d="M389.04,178.175 389.4,180.9 389.6,182.6 389.4,184.7 390.5,185.7 390.8,187.3" fill="none" stroke="#111" stroke-width="1.0"/>
<path d="M390.82,176.597 392.3,178.9 393.1,180.5" fill="none" stroke="#111" stroke-width="1.0"/>
<path d="M393.001,174.89 393.8,176.8 394.3,177.7" fill="none" stroke="#111" stroke-width="1.0"/>
<path d="M394.914,173.302 396.6,175.3 397.2,176.8" fill="none" stroke="#111" stroke-width="1.0"/>
<path d="M396.598,172.067 398.7,173.6 400.8,174.2 402.8,174.8" fill="none" stroke="#111" stroke-width="1.0"/>
<path d="M399.577,170.472 400.2,172.5 399.6,174" fill="none" stroke="#111" stroke-width="1.0"/>
<path d="M401.378,169.675 402.6,172 404,173.2" fill="none" stroke="#111" stroke-width="1.0"/>
<path d="M403.624,168.663 404.9,170.5 405.6,171.5" fill="none" stroke="#111" stroke-width="1.0"/>
<path d="M406.09,167.461 407.8,169.7 408.7,171.2" fill="none" stroke="#111" stroke-width="1.0"/>
<path d="M408.969,166.251 408.1,168.8 408.7,169.7" fill="none" stroke="#111" stroke-width="1.0"/>
<path d="M410.449,165.54 411.7,167.5 413.5,167.5" fill="none" stroke="#111" stroke-width="1.0"/>
<path d="M411.613,163.876 414.2,163.7 415.3,164.4" fill="none" stroke="#111" stroke-width="1.0"/>
<path d="M413.086,161.181 416,162.1 418.2,162.3" fill="none" stroke="#111" stroke-width="1.0"/>
<path d="M414.536,158.756 417.2,159.5 418.6,160.4 419.9,161.5 421.2,162.6" fill="none" stroke="#111" stroke-width="1.0"/>
<path d="M416.036,156.269 419.1,157.5 420.9,158.8" fill="none" stroke="#111" stroke-width="1.0"/>
<path d="M417.328,154.156 420,154.5 420.7,156.3 422.2,156.7" fill="none" stroke="#111" stroke-width="1.0"/>
<path d="M418.899,151.545 421,154 423.1,154.7" fill="none" stroke="#111" stroke-width="1.0"/>
<path d="M420.164,149.453 422.4,150.5 423.7,151.4 425.1,151.9 427.1,151.5 428,152.9" fill="none" stroke="#111" stroke-width="1.0"/>
<path d="M422.013,146.627 423.4,148.8 423.9,150.8 425.4,151.3 425.8,153.4 426.6,155" fill="none" stroke="#111" stroke-width="1.0"/>
<path d="M423.538,144.437 424.5,146.6 424.8,148.1" fill="none" stroke="#111" stroke-width="1.0"/>
<path d="M424.366,143.08 427.2,143.3 428.9,143.8" fill="none" stroke="#111" stroke-width="1.0"/>
<path d="M426.185,140.272 427.9,141.7 427.9,143.8" fill="none" stroke="#111" stroke-width="1.0"/>
<path d="M427.264,138.617 430.5,139 432.3,139.8" fill="none" stroke="#111" stroke-width="1.0"/>
<path d="M428.69,136.481 430.5,137.6 432.4,136.9" fill="none" stroke="#111" stroke-width="1.0"/>
<path d="M430.318,133.985 432,135.5 433.2,136.2" fill="none" stroke="#111" stroke-width="1.0"/>
<path d="M431.751,131.837 433.4,134.1 434.9,134.1 435.8,135.8" fill="none" stroke="#111" stroke-width="1.0"/>
<path d="M432.218,129.918 435.1,130.5 437.2,130.3" fill="none" stroke="#111" stroke-width="1.0"/>
<path d="M432.935,127.389 435.8,127.3 437.5,127.8" fill="none" stroke="#111" stroke-width="1.0"/>
<path d="M433.643,125.019 435.6,125 436.8,124.3" fill="none" stroke="#111" stroke-width="1.0"/>
<path d="M434.412,122.173 436.6,123.7 438.3,123.1 439.6,124.1 441.1,124.3 442.6,124.6" fill="none" stroke="#111" stroke-width="1.0"/>
<path d="M435.104,119.746 437.8,119.8 439.1,121 440.7,121.4" fill="none" stroke="#111" stroke-width="1.0"/>
<path d="M435.789,117.586 438.5,117.7 440.5,116.7 441.9,117.7 444,116.4" fill="none" stroke="#111" stroke-width="1.0"/>
<path d="M436.561,114.655 439,115.9 441.1,115.8 442.8,116.3" fill="none" stroke="#111" stroke-width="1.0"/>
<path d="M438.082,112.324 439.9,113.4 440.7,114" fill="none" stroke="#111" stroke-width="1.0"/>
<path d="M439.372,110.543 441.8,110.8 443.4,110.8" fill="none" stroke="#111" stroke-width="1.0"/>
<path d="M440.82,108.31 443.1,108.4 444,108.7" fill="none" stroke="#111" stroke-width="1.0"/>
<path d="M442.214,106.41 445.1,106.2 447,105.9 448.7,105.9" fill="none" stroke="#111" stroke-width="1.0"/>
<path d="M443.644,104.239 446.8,103.9 448,104.8 450.2,104.3" fill="none" stroke="#111" stroke-width="1.0"/>
<path d="M445.406,101.396 446.9,103.9 448.1,104.9 449.8,105.3 450.2,107.6 451.7,108.2" fill="none" stroke="#111" stroke-width="1.0"/>
<path d="M446.513,99.8423 449.2,100.1 450.3,101.1" fill="none" stroke="#111" stroke-width="1.0"/>
<path d="M447.827,97.5314 449.4,98.9 450.3,99.3" fill="none" stroke="#111" stroke-width="1.0"/>
<path d="M449.326,95.0946 451.8,96.9 452.6,99.5" fill="none" stroke="#111" stroke-width="1.0"/>
<path d="M450.3,93.4374 452.9,94.1 454.4,94.8" fill="none" stroke="#111" stroke-width="1.0"/>
<path d="M451.575,91.287 453.6,92.9 455.7,92.6 456.7,94 458.7,94 460.1,94.8" fill="none" stroke="#111" stroke-width="1.0"/>
<path d="M452.928,89.0135 455.1,90.3 456.1,91.7 457.6,92.2 458.7,93.5 460.4,93.7" fill="none" stroke="#111" stroke-width="1.0"/>
<path d="M454,87.4831 456.7,87.9 458.8,87.8" fill="none" stroke="#111" stroke-width="1.0"/>
<path d="M455,85.0043 458.1,84.7 460,84.8 461.6,85.6" fill="none" stroke="#111" stroke-width="1.0"/>
<path d="M456.006,82.6099 458.5,82.9 460.5,82 461.9,82.3" fill="none" stroke="#111" stroke-width="1.0"/>
<path d="M457.063,79.6505 459.6,80.9 461.6,80.8 462.9,82.6 465.1,82.2" fill="none" stroke="#111" stroke-width="1.0"/>
<path d="M458.001,77.5385 460.3,76.8 461.1,77.2" fill="none" stroke="#111" stroke-width="1.0"/>
<path d="M459.003,75.0801 461.5,74.2 462.4,74.6" fill="none" stroke="#111" stroke-width="1.0"/>
<path d="M460.001,72.5518 462.8,72.2 464.3,72.5 465.9,72.6 467.6,72.4" fill="none" stroke="#111" stroke-width="1.0"/>
<path d="M461.02,69.8024 463.4,70.5 464.8,71.2 466.7,70.4" fill="none" stroke="#111" stroke-width="1.0"/>
<path d="M462.266,66.8214 464.2,68.7 465.6,69.2 466.6,70.8" fill="none" stroke="#111" stroke-width="1.0"/>
<path d="M463.108,64.5485 466.1,65.6 467.9,67.2" fill="none" stroke="#111" stroke-width="1.0"/>
<path d="M464.013,62.6617 465.8,62.8 466.8,62.8" fill="none" stroke="#111" stroke-width="1.0"/>
<path d="M465.077,59.8563 467.6,60.4 468.5,62.1 470.2,62 471.8,62 473,63" fill="none" stroke="#111" stroke-width="1.0"/>
<path d="M466.07,57.6135 468.3,59.2 469.8,59.7" fill="none" stroke="#111" stroke-width="1.0"/>
<path d="M467.035,55.457 469,56.2 470.3,55.7" fill="none" stroke="#111" stroke-width="1.0"/>
<path d="M468.007,53.3388 469.9,53.9 470.9,54.2" fill="none" stroke="#111" stroke-width="1.0"/>
<path d="M469.033,50.9455 471.2,51.6 472.1,52.5" fill="none" stroke="#111" stroke-width="1.0"/>
<path d="M471.025,48.4987 473.7,49.3 474.8,50.5 476.1,51.3 477.3,52.4 479.1,52.7" fill="none" stroke="#111" stroke-width="1.0"/>
<path d="M473.139,46.0582 474.2,47.9 475.2,48.3" fill="none" stroke="#111" stroke-width="1.0"/>
<path d="M474.672,44.3725 477.1,45.6 478.8,46.4 480.8,46.7" fill="none" stroke="#111" stroke-width="1.0"/>
<path d="M411.451,258.698 410.5,257.3 409.1,257.7" fill="none" stroke="#111" stroke-width="0.8"/>
<path d="M408.128,261.979 406.7,261.2 407.4,260" fill="none" stroke="#111" stroke-width="0.8"/>
<path d="M404.183,264.601 404,262.6 403.2,262.1" fill="none" stroke="#111" stroke-width="0.8"/>
<path d="M400.52,267.054 399.2,265.5 399.5,264.2" fill="none" stroke="#111" stroke-width="0.8"/>
<path d="M397.405,268.142 396.2,267.1 395.2,267" fill="none" stroke="#111" stroke-width="0.8"/>
<path d="M393.367,269.733 393.5,267.8 392.9,267.2" fill="none" stroke="#111" stroke-width="0.8"/>
<path d="M390.25,270.968 389.6,269.5 389.4,269" fill="none" stroke="#111" stroke-width="0.8"/>
<path d="M386.422,269.735 386.5,268.2 386.5,267.6" fill="none" stroke="#111" stroke-width="0.8"/>
<path d="M381.715,268.12 383.4,267.4 382.9,266.5" fill="none" stroke="#111" stroke-width="0.8"/>
<path d="M378.586,265.337 379.1,263.2 379.2,261.8" fill="none" stroke="#111" stroke-width="0.8"/>
<path d="M435.1,83.7 437.5,84.5 437,81.9 439.8,83.2 439.1,81.6 438.1,78.9 440.8,80.2 442.6,79.7 441,77.1 445.4,78.1 445.8,76.9 443.4,73.3 445.7,74.3 448.5,74.7 447,70.5 447.9,69.4 449.6,70.1 450,68.9 449.8,67.9 453.3,69.2 453.9,68.1 456.2,67.1 456.2,65.6 456.4,63.9 455.3,61.7 458.6,63.2 460.6,61.6 458.9,59.5 460,58.6 463,59.3 459.9,55.5 464.2,55.8 463.7,54.7 465,53.7 464.5,51.9 466.5,52" fill="none" stroke="#111" stroke-width="1.3"/>
<path d="M438.2,87.7 435.6,80.5 436.5,81.2 440.6,81.4 443,81.2 444.6,80 444.9,76.1 446.6,75.2 446.6,75.4 449.6,74.2 447.4,70.7 451.9,71.6 453.9,70.5 454.9,69.7 454.9,67.1 454.4,63.1 455.6,62.2 460.1,63.8 457.2,58.4 460.4,60.3 458.9,55.4 460.6,53.2 463.8,54.8 464.7,52.7 468.1,54.3" fill="none" stroke="#111" stroke-width="1.1"/>
<path d="M444.7,84.3 444.6,84.2 444.5,81.6 444.8,80.6 444.5,78 445.5,76.8 445.2,75.3 449.2,76 449.9,73.9 449.6,73.2 452.8,73 453.5,71.4 455.4,71.8 455.7,69.8 456.3,67.5 455.6,66.3 457.9,64.7 459.1,64.2" fill="none" stroke="#111" stroke-width="1.0"/>
<path d="M797,4 680,4 680,5.5 682.5,10 677.5,15 682.5,22.5 681.2,28.8 672.5,35 661.2,30 661.2,23.8 666.2,15 655,9.5 637.5,15 647.5,18.8 652.5,27.5 655,37.5 662.5,40 666.2,47.5 670,57 663.8,53.8 657.5,53.8 652.5,57.5 650,65 646.2,72.5 643.8,80 647.5,85 653.8,89.5 657.5,92.5 652.5,95 642.5,96.2 638.8,100 643.8,106.2 644.5,112.5 640,117 631.2,117 625,112.5 617.5,113.8 612.5,107.5 610,100 606.2,95 605,87.5 600,85 597.5,85 587.5,80 577.5,72.5 580,72.5 593.8,73.8 607.5,76.2 621.2,75 632.5,71.2 640,62.5 642.5,53.8 638.8,47.5 632.5,41.2 622.5,36.2 610,32.5 597.5,28.8 585,28 571.2,31.2 562.5,36.2 552.5,45 543.8,53.8 540,40 543.8,53.8 547.5,61.2 558.8,68.8 557.5,82.5 565,92.5 571.2,102.5 564,90 571,102 572,112 576,122 583,130 584,139 594,144 600,150 600,156 594,178 589,197 585,201.2 590,202.5 600,203.8 606.2,208.8 595,210 587.5,215 588.8,223 586.2,237.5 591.2,247.5 593.8,252.5 592,259.5 597.5,265 600,272.5 605,278.8 607,282.5 615,283.8 622.5,286.2 627.5,282.5 636.2,286.2 640,295 646.2,302.5 655,310 662.5,313.8 668.8,320 665,327.5 656.2,330 660,340 665,346.2 666.2,346.2 672.5,340 680,336.2 687.5,334.5 696.2,341.2 698.8,350 707.5,350 715,355 720,362.5 730,358.8 740,355 750,357.5 762.5,356.2 776.2,356.2 778.8,367.5 783.8,377.5 783.8,387.5 775,392.5 771.2,400 772.5,408.8 782.5,401.9 784.6,404.5 779,411.5 775.5,415.9 770.6,419.4 775.5,423.8 779,427.3 777.3,432.5 775.5,439.5 774.6,443.9 768.5,447.4 763.6,449.5 765,451.8 772,452.6 777.3,454.4 782.5,455.3 789.5,457 798.3,457 797,458Z" fill="#ecf8e6" stroke="#333333" stroke-width="1.0"/>
<g clip-path="url(#c-russia)"><path d="M599,195 680,192 770,185.4 809,175.5 809,327 755,297.6 710,278.1 665,257.1 620,239.1 588.5,227.1Z" fill="#dcf7d5" filter="url(#bl2.5)"/></g>
<g clip-path="url(#c-russia)"><path d="M650,214.5 695,200.4 809,186 809,292.5 740,269.4 695,251.4Z" fill="#d3f4ca" filter="url(#bl4)"/></g>
<g clip-path="url(#c-russia)"><path d="M773.8,355 785,350 797.5,345 807.5,342.5 807.5,470 750,470 750,442.5 765,427.5 772.5,410 785,385 780,367.5Z" fill="#b8f2a8" filter="url(#bl2)"/></g>
<path d="M580,72.5 593.8,73.8 607.5,76.2 621.2,75 632.5,71.2 640,62.5 642.5,53.8 638.8,47.5 632.5,41.2 622.5,36.2 610,32.5 597.5,28.8 585,28 571.2,31.2 562.5,36.2 552.5,45 543.8,53.8 550,63.8 560,70 570,71.2Z" fill="#dcf8d6" stroke="#c8e4c4" stroke-width="0.9" clip-path="url(#c-russia)"/>
<path d="M797,4 680,4 680,5.5 682.5,10 677.5,15 682.5,22.5 681.2,28.8 672.5,35 661.2,30 661.2,23.8 666.2,15 655,9.5 637.5,15 647.5,18.8 652.5,27.5 655,37.5 662.5,40 666.2,47.5 670,57 663.8,53.8 657.5,53.8 652.5,57.5 650,65 646.2,72.5 643.8,80 647.5,85 653.8,89.5 657.5,92.5 652.5,95 642.5,96.2 638.8,100 643.8,106.2 644.5,112.5 640,117 631.2,117 625,112.5 617.5,113.8 612.5,107.5 610,100 606.2,95 605,87.5 600,85 597.5,85 587.5,80 577.5,72.5 580,72.5 593.8,73.8 607.5,76.2 621.2,75 632.5,71.2 640,62.5 642.5,53.8 638.8,47.5 632.5,41.2 622.5,36.2 610,32.5 597.5,28.8 585,28 571.2,31.2 562.5,36.2 552.5,45 543.8,53.8 540,40 543.8,53.8 547.5,61.2 558.8,68.8 557.5,82.5 565,92.5 571.2,102.5 564,90 571,102 572,112 576,122 583,130 584,139 594,144 600,150 600,156 594,178 589,197 585,201.2 590,202.5 600,203.8 606.2,208.8 595,210 587.5,215 588.8,223 586.2,237.5 591.2,247.5 593.8,252.5 592,259.5 597.5,265 600,272.5 605,278.8 607,282.5 615,283.8 622.5,286.2 627.5,282.5 636.2,286.2 640,295 646.2,302.5 655,310 662.5,313.8 668.8,320 665,327.5 656.2,330 660,340 665,346.2 666.2,346.2 672.5,340 680,336.2 687.5,334.5 696.2,341.2 698.8,350 707.5,350 715,355 720,362.5 730,358.8 740,355 750,357.5 762.5,356.2 776.2,356.2 778.8,367.5 783.8,377.5 783.8,387.5 775,392.5 771.2,400 772.5,408.8 782.5,401.9 784.6,404.5 779,411.5 775.5,415.9 770.6,419.4 775.5,423.8 779,427.3 777.3,432.5 775.5,439.5 774.6,443.9 768.5,447.4 763.6,449.5 765,451.8 772,452.6 777.3,454.4 782.5,455.3 789.5,457 798.3,457 797,458Z" fill="none" stroke="#333333" stroke-width="1.0"/>
<path d="M626.2,94.5 638.8,95 637.5,102.5 633.8,106.2 627.5,102.5Z" fill="#dcdcdc" stroke="#555" stroke-width="0.5"/>
<path d="M576.2,380 576.2,367.5 600,363.8 610,365 623.8,366.8 637.5,361.8 650,360.5 656.2,361.2 653.8,357.5 656.2,348.8 666.2,346.2 672.5,340 680,336.2 687.5,334.5 696.2,341.2 698.8,350 707.5,350 715,355 720,362.5 730,358.8 740,355 750,357.5 762.5,356.2 776.2,356.2 778.8,367.5 783.8,377.5 783.8,387.5 775,392.5 771.2,400 772.5,408.8 767.5,412.5 762.5,417.5 755,425 750,430 742.5,435 737.5,441.2 742.5,450 750,455 757.5,452.5 765,448.8 762.5,453.8 755,457.5 750,461.2 747.5,470 742.5,476.2 735,478.8 728.8,477.5 727.5,470 720,467.5 712.5,466.2 713.8,460 718.8,456.2 723.8,451.2 720,450 710,452.5 702.5,452.5 697.5,448.8 702.5,446.2 692.5,447.5 686.2,451.2 685,457.5 682.5,465 677.5,472.5 676.2,482.5 670,483.8 660,482.5 626.2,431.2 622.5,433.8 615,441.2 605,447.5 600,443.8 590,446.2 578.8,447.5 570,442.5 572.5,440 575,427.5 572.5,420 575,412.5 580,402.5 583.8,391.2Z" fill="#b8f2a8" stroke="#333333" stroke-width="1.0"/>
<path d="M626.2,431.2 637.5,426.2 648.8,427.5 658.8,432.5 662.5,441.2 670,446.2 675,456.2 666.2,457.5 661.2,462.5 662.5,472.5 658.8,480 653.8,470 651.2,460 643.8,450 635,440Z" fill="#ecf8e6" stroke="#333333" stroke-width="1.0"/>
<path d="M567.5,335 575,332.5 581.2,328.8 587.5,325 586.2,315 591.2,307.5 595,302.5 593,295.5 602.5,290 607,282.5 615,283.8 622.5,286.2 627.5,282.5 636.2,286.2 640,295 646.2,302.5 655,310 662.5,313.8 668.8,320 665,327.5 656.2,330 660,340 665,346.2 657.5,350 656.2,362.5 647.5,363.8 637.5,366.2 625,367.5 610,367 597.5,367.5 590,369.5 583,373 578,376 573,370 567,366 570,360 575,357.5 571.2,345Z" fill="#dcf8d6" stroke="#333333" stroke-width="1.0"/>
<path d="M553.8,228.8 565,223.8 577.5,224.5 588.8,223 586.2,237.5 591.2,247.5 593.8,252.5 592,259.5 585,260 580,261.2 572.5,256.2 567.5,255 561.2,258.8 558.8,250 553.8,251.2 550,245 547.5,237.5Z" fill="#ecf8e6" stroke="#333333" stroke-width="1.0"/>
<path d="M533.8,253.8 540,250 547.5,249.5 546.2,255 541.2,258.8 537.5,261.2 535,258.8Z" fill="#ecf8e6" stroke="#333333" stroke-width="0.7"/>
<path d="M535,243.8 538.8,241.2 543,243 542.5,247 537.5,248Z" fill="#ecf8e6" stroke="#333333" stroke-width="0.7"/>
<path d="M561.2,258.8 567.5,255 572.5,256.2 580,261.2 585,260 592,259.5 597.5,265 600,272.5 605,278.8 607,282.5 602.5,290 593,295.5 587.5,292.5 577.5,288.8 571.2,286.2 560,290 550,290 540,292.5 533.8,298.8 531.2,287.5 532.5,277.5 536.2,271.2 542.5,266.2 547.5,266.2 550,271.2 555,276.2 560,275 562.5,267.5Z" fill="#ecf8e6" stroke="#333333" stroke-width="1.0"/>
<path d="M533.8,298.8 540,292.5 550,290 560,290 571.2,286.2 577.5,288.8 587.5,292.5 593,295.5 595,302.5 591.2,307.5 586.2,315 587.5,325 581.2,328.8 575,332.5 567.5,335 557,328 556.2,322.5 553.8,316.2 545,316.2 537.5,315 535,307.5Z" fill="#ecf8e6" stroke="#333333" stroke-width="1.0"/>
<path d="M537.5,315 545,316.2 553.8,316.2 556.2,322.5 557,328 537.5,331.2 520,333.8 527.5,327.5 523.8,322.5 532.5,320Z" fill="#ecf8e6" stroke="#333333" stroke-width="1.0"/>
<path d="M466.2,346.2 475,342.5 485,335 495,330 506.2,327.5 512.5,331.2 518.8,333.8 525,331.2 527.5,328.8 527.5,331.2 540,330.5 556.2,328.8 565,333.8 567.5,335 572.5,345 575,355 570,365 576.2,376.2 578.8,380 583.8,391.2 580,402.5 575,412.5 572.5,420 575,427.5 565,423.8 555,425 547.5,427.5 540,430 532.5,425 526.2,427.5 520,420 512.5,416.2 507.5,413.8 500,415 493.8,410 487.5,407.5 477.5,405 475,402.5 472.5,392.5 470,382.5 468.8,373.8 463.8,366.2 466.2,357.5Z" fill="#ecf8e6" stroke="#333333" stroke-width="1.0"/>
<path d="M475,402.5 477.5,405 487.5,407.5 493.8,410 500,415 507.5,413.8 512.5,416.2 520,420 526.2,427.5 520,432.5 512.5,440 505,443.8 497.5,442.5 487.5,442.5 477.5,442.5 470,447.5 463.8,448.8 455,440 447.5,432.5 445,425 442.5,418.8 452.5,412.5 465,406.2Z" fill="#ecf8e6" stroke="#333333" stroke-width="1.0"/>
<path d="M526.2,427.5 532.5,425 540,430 547.5,427.5 555,425 565,423.8 575,427.5 572.5,440 570,442.5 562.5,441.2 555,442.5 545,447.5 537.5,451.2 531.2,455 526.2,460 515,461.2 506.2,457.5 503.8,450 505,443.8 512.5,440 520,432.5Z" fill="#ecf8e6" stroke="#333333" stroke-width="1.0"/>
<path d="M506.2,457.5 515,461.2 526.2,460 531.2,455 537.5,451.2 545,447.5 555,442.5 562.5,441.2 570,442.5 578.8,447.5 580,446.2 575,450 571.2,457.5 567.5,470 562.5,480 555,487.5 545,488.8 536.2,490 533.8,495 522.5,496.2 510,493.8 498.8,486.2 496.2,485 498.8,477.5 497.5,470 503.8,465 506.2,458.8Z" fill="#ecf8e6" stroke="#333333" stroke-width="1.0"/>
<path d="M580,446.2 590,442.5 600,443.8 605,447.5 615,441.2 622.5,433.8 626.2,431.2 635,440 643.8,450 651.2,460 653.8,470 658.8,480 660,482.5 665,481.2 675,477.5 677.5,481.2 675,490 671.2,500 670,513.8 660,511.2 652.5,510 645,512.5 635,517.5 622.5,522.5 610,523.8 597.5,525 590,522.5 587.5,517.5 582.5,511.2 577.5,512.5 571.2,508.8 568.8,500 562.5,492.5 555,487.5 562.5,480 567.5,470 571.2,457.5 575,450Z" fill="#ecf8e6" stroke="#333333" stroke-width="1.0"/>
<path d="M587.5,517.5 590,522.5 597.5,525 610,523.8 622.5,522.5 635,517.5 645,512.5 652.5,510 660,511.2 670,513.8 665,520 663.8,530 662.5,537.5 667.5,543.8 668.8,547 657.5,548.8 650,553.8 645,557.5 637.5,561.2 625,565 612.5,567.5 605,571.2 601.2,570 597.5,562.5 590,556.2 591.2,547.5 595,542.5 592.5,535 586.2,525Z" fill="#33791f" stroke="#333333" stroke-width="1.0"/>
<path d="M536.2,490 545,488.8 555,487.5 562.5,492.5 568.8,500 571.2,508.8 577.5,512.5 582.5,511.2 587.5,517.5 586.2,525 592.5,535 595,542.5 591.2,547.5 590,556.2 582.5,557.5 575,560 566.2,563.8 560,560 555,556.2 560,548.8 552.5,546.2 545,540 546.2,530 541.2,522.5 538.8,515 541.2,507.5 537.5,505 533.8,495Z" fill="#90ee70" stroke="#333333" stroke-width="1.0"/>
<path d="M466.2,507.5 472.5,505 480,506.2 485,502.5 490,495 498.8,487.5 498.8,486.2 510,493.8 522.5,496.2 533.8,495 537.5,505 541.2,507.5 538.8,513.8 530,511.2 517.5,511.2 505,510 493.8,512.5 493.8,515 498.8,521.2 505,528.8 512.5,537.5 520,545 527.5,552.5 533.8,557.5 540,563.8 533.8,562.5 525,558 517.5,553 505,545.5 492.5,533.8 487.5,527 482.5,520 476.2,513.8 473.8,512.5 471.2,521.2 467.5,517.5 465,512.5Z" fill="#b8f2a8" stroke="#333333" stroke-width="1.0"/>
<path d="M493.8,512.5 505,510 517.5,511.2 530,511.2 538.8,513.8 541.2,522.5 546.2,530 545,540 540,542.5 536.2,550 533.8,557.5 527.5,552.5 520,545 512.5,537.5 505,528.8 498.8,521.2 493.8,515Z" fill="#061a03" stroke="#333" stroke-width="1.0"/>
<path d="M545,540 552.5,546.2 560,548.8 555,555 550,557.5 548.8,565 545,570 540,563.8 535,557.5 533.8,557.5 536.2,550 540,542.5Z" fill="#0f330a" stroke="#333" stroke-width="1.0"/>
<path d="M548.8,557.5 555,556.2 560,560 566.2,563.8 566.2,572.5 567.5,580 573.8,587.5 575,593.8 571.2,600 568.8,608.8 565,610 557.5,605 552.5,597.5 551.2,587.5 552.5,577.5 550,570 548.8,565Z" fill="#061a03" stroke="#333" stroke-width="1.0"/>
<path d="M566.2,563.8 575,560 582.5,557.5 590,556.2 597.5,562.5 601.2,570 597.5,576.2 587.5,580 580,583.8 573.8,586.2 567.5,580 566.2,572.5Z" fill="#061a03" stroke="#333" stroke-width="1.0"/>
<path d="M462.5,491.2 475,488.8 490,483.8 496.2,481.2 498.8,487.5 490,495 485,502.5 480,506.2 472.5,505 466.2,507.5 462.5,502.5 461.2,496.2Z" fill="#90ee70" stroke="#333333" stroke-width="1.0"/>
<path d="M492.5,452 496.2,451 500,453 499.5,456 495,456.5 492.5,454.5Z" fill="#3f8c2b" stroke="none" stroke-width="0"/>
<path d="M385,470 397.5,467.5 407.5,470 411.2,472.5 410,480 417.5,483.8 421.2,487.5 415,492.5 408.8,491.2 406.2,496.2 402.5,502.5 397.5,497.5 393.8,495 388.8,498.8 381.2,501.2 375,500 373.8,492.5 365,493.8 363.8,490 368.8,483.8 375,477.5 380,475Z" fill="#68bb4d" stroke="#333333" stroke-width="1.0"/>
<path d="M383.8,541.2 381.2,536.2 375,532.5 373.8,525 371.2,516.2 375,512.5 372.5,507.5 375,501.2 375,500 381.2,501.2 388.8,498.8 393.8,495 397.5,497.5 402.5,502.5 406.2,496.2 408.8,491.2 415,492.5 421.2,487.5 421.2,483.8 430,483.8 440,482.5 443.8,480 447.5,485 455,486.2 462.5,491.2 461.2,496.2 462.5,502.5 466.2,507.5 467.5,510 462.5,505 456.2,507.5 451.2,512.5 447.5,518.8 448.8,527.5 452.5,533.8 460,540 460,542.5 467.5,547.5 470,557.5 475,565 482.5,571.2 492.5,575 502.5,575 505,578.8 502.5,583.8 512.5,587.5 522.5,591.2 532.5,597.5 538.8,603.8 540,608.8 536.2,611.2 532.5,605 526.2,600 520,600 516.2,605 512.5,611.2 515,617.5 521.2,621.2 522.5,627.5 518.8,631.2 515,636.2 513.8,642.5 508.8,648.8 502.5,650 501.2,643.8 506.2,637.5 508.8,632.5 506.2,625 503.8,617.5 502.5,611.2 496.2,607.5 490,603.8 485,598.8 478.8,597.5 472.5,592.5 465,588.8 460,587.5 455,585 446.2,578.8 437.5,572.5 430,565 422.5,557.5 420,547.5 415,540 407.5,533.8 400,531.2 390,535 382.5,540Z" fill="#90ee70" stroke="#333333" stroke-width="1.0"/>
<path d="M447.5,488.8 455,485 463.8,490 462.5,496.2 463.8,503.8 457.5,506.2 451.2,502.5 447.5,496.2Z" fill="#b8f2a8" stroke="#f0ecf0" stroke-width="0.9" clip-path="url(#c-italy)"/>
<path d="M381.2,542.5 390,536.2 400,533.2 407.5,535.5 413.8,541.2 418.8,546.2 421.2,542.5 410,530 400,527.5 387.5,530 380,537.5Z" fill="#b8f2a8" stroke="#f0ecf0" stroke-width="0.9" clip-path="url(#c-italy)"/>
<path d="M436,568 446.5,562 452.5,568 461.5,562 469,557.5 480,550 495,570 490,574 488.5,580 484,583 478,584.5 473.5,583 472,587.5 465,595 430,575Z" fill="#b8f2a8" stroke="#f0ecf0" stroke-width="0.9" clip-path="url(#c-italy)"/>
<path d="M472,587.5 473.5,583 478,584.5 484,583 488.5,580 490,574 495,568 560,585 560,630 514,611 502.5,612.5 495,612 465,595Z" fill="#dcf8d6" stroke="#f0ecf0" stroke-width="0.9" clip-path="url(#c-italy)"/>
<path d="M501.2,612.5 513.8,611.2 527.5,625 520,637.5 510,653.8 497.5,651.2 503.8,632.5Z" fill="#b8f2a8" stroke="#f0ecf0" stroke-width="0.9" clip-path="url(#c-italy)"/>
<path d="M453.8,651.2 462.5,647.5 472.5,650 482.5,648.8 492.5,645 500,643.8 500.5,647.5 497.5,653.8 493.8,660 496.2,668.8 493.8,674.5 485,672.5 475,667.5 465,662.5 465,661.2 456.2,657.5Z" fill="#b8f2a8" stroke="#333333" stroke-width="1.0"/>
<path d="M390,597.5 397.5,593.8 405,591.2 410,595 412.5,602.5 411.2,612.5 410,622.5 407.5,630 402.5,633.8 396.2,635 392.5,630 392,620 392.5,610 390.5,603.8Z" fill="#dcf8d6" stroke="#333333" stroke-width="1.0"/>
<path d="M407.5,557.5 409.5,567.5 408.8,575 406.2,583.8 402.5,587.5 398.8,583.8 395.5,575 396.2,567.5 400,563.8 405,561.2Z" fill="#2a6a16" stroke="#333333" stroke-width="1.0"/>
<path d="M481.2,687 485,687.5 487.5,690.5 484.5,691.5 482,689.5Z" fill="#b8f2a8" stroke="#333333" stroke-width="0.6"/>
<path d="M303.8,615 312.5,610.8 320,613.8 317.5,620 313.8,622.5 310,618.8 306.2,618.8Z" fill="#68bb4d" stroke="#333333" stroke-width="0.6"/>
<path d="M325,610 330,609.5 330.5,612.5 326.2,613Z" fill="#68bb4d" stroke="#333333" stroke-width="0.6"/>
<path d="M285,626.2 290,623.8 291.2,627 287.5,630Z" fill="#68bb4d" stroke="#333333" stroke-width="0.6"/>
<path d="M383.5,357.5 380.3,356.3 374,357.5 367.7,358.8 362.7,361.3 358.3,365.1 355.8,368.9 354.5,373.9 352.6,378.9 350.1,382.7 347.6,385.2 343.8,387.7 341.3,390.3 338.8,392.8 337.5,394.7 342.6,395.3 347.6,393.4 352.6,393.4 356.4,394.7 360.2,397.8 364,399.1 365.8,401.6 364,405.3 365.8,407.9 367.7,402.8 369,397.8 370.3,392.8 369,387.7 371.5,386.5 376.5,385.8 378.4,382.7 381.6,380.2 379.7,376.4 378.4,373.9 380.9,370.1 383.5,366.4 384.7,361.9Z" fill="#90ee70" stroke="#333333" stroke-width="1.0"/>
<path d="M362.7,360.1 380.3,355 384.7,356.9 386,361.9 383.5,366.4 380.9,370.1 378.4,372 372.8,371.4 371.5,367.6 367.7,368.9 362.7,367.6 360.8,365.1Z" fill="#b8f2a8" stroke="#f0ecf0" stroke-width="0.9" clip-path="url(#c-netherlands)"/>
<path d="M354.5,366.4 361.4,367.6 360.2,371.4 358.3,375.2 354.5,378.3 352.6,378.3Z" fill="#4fa831" stroke="#f0ecf0" stroke-width="0.9" clip-path="url(#c-netherlands)"/>
<path d="M360.2,371.4 366.5,368.9 369,372 366.5,375.2 362.7,377.7 360.2,375.2Z" fill="#68bb4d" stroke="#f0ecf0" stroke-width="0.9" clip-path="url(#c-netherlands)"/>
<path d="M346.4,385.2 352,380.2 355.2,380.8 357,384 355.2,386.5 350.1,388.4 346.4,388.4Z" fill="#33791f" stroke="#f0ecf0" stroke-width="0.9" clip-path="url(#c-netherlands)"/>
<path d="M355.8,380.2 362.7,380.2 364,383.3 357,384Z" fill="#68bb4d" stroke="#f0ecf0" stroke-width="0.9" clip-path="url(#c-netherlands)"/>
<path d="M347.6,389 355.2,387.1 366.5,389 369,392.8 367.7,399.1 364,399.7 360.2,398.4 356.4,395.3 352.6,394 347.6,394Z" fill="#68bb4d" stroke="#f0ecf0" stroke-width="0.9" clip-path="url(#c-netherlands)"/>
<path d="M336.9,390.9 342.6,388.4 347,389.6 346.4,393.4 342.6,395.9 336.9,395.3Z" fill="#b9c4b6" stroke="#999" stroke-width="0.9" clip-path="url(#c-netherlands)"/>
<path d="M330,397.2 337.5,394.7 342.6,395.3 347.6,393.4 352.6,393.4 356.4,394.7 360.2,397.8 364,399.1 365.8,401.6 364,405.3 365.8,407.9 370.3,409.1 371.5,414.2 369,417.9 367.7,419.8 364.6,423 364,425.5 364.6,429.2 362.7,430.5 358.9,428 355.2,424.2 352.6,420.4 348.9,422.3 345.1,421.7 346.4,417.9 343.8,415.4 340.1,411.6 335.7,409.1 333.8,406 330,405.3 327.5,402.8Z" fill="#68bb4d" stroke="#333333" stroke-width="1.0"/>
<path d="M343.8,402.8 357.7,402.8 358.3,407.2 355.2,410.4 345.1,410.4 343.8,406.6Z" fill="#90ee70" stroke="#f0ecf0" stroke-width="0.9" clip-path="url(#c-belgium)"/>
<path d="M347.1,403.8 350.1,403.8 350.1,406.6 347.1,406.6Z" fill="#000" stroke="none" stroke-width="0"/>
<path d="M364.6,423 367.7,419.8 370.3,420.4 372.8,425.5 371.5,430.5 367.7,431.8 364.6,429.2 364,425.5Z" fill="#90ee70" stroke="#333333" stroke-width="0.8"/>
<path d="M421.5,276.9 420.3,282.6 420.9,287.6 419,292.6 417.7,297 422.8,299.6 425.3,301.4 424,305.2 420.3,305.8 417.7,309 416.5,312.8 414,314.7 412.1,317.8 411.4,322.8 410.2,327.9 411.4,331.6 414.6,332.9 415.8,336.7 410.2,335.4 405.2,332.9 400.8,332.9 398.2,329.1 398.9,324.1 397.6,319.1 396.4,314 395.7,307.7 396.4,301.4 397.6,295.2 400.1,290.8 403.9,288.9 410.2,288.2 414,283.8 416.5,280.1Z" fill="#90ee70" stroke="#333333" stroke-width="1.0"/>
<path d="M415.2,319.1 419,317.8 422.8,320.3 424,325.3 422.1,328.5 417.7,327.2 415.2,324.1Z" fill="#90ee70" stroke="#333333" stroke-width="0.9"/>
<path d="M429.1,315.9 432.8,313.4 437.2,311.5 437.9,307.7 441.6,307.7 443.5,311.5 442.9,316.5 441.6,320.3 440.4,324.1 437.9,326 434.1,324.7 430.3,322.8 428.4,319.7Z" fill="#68bb4d" stroke="#333333" stroke-width="0.9"/>
<path d="M427.8,331.6 430.3,329.7 434.1,331.6 435.3,334.2 431.6,335.4 428.4,333.5Z" fill="#90ee70" stroke="#333333" stroke-width="0.8"/>
<path d="M412.1,323.5 414,322.8 414.6,326 413,327.2Z" fill="#90ee70" stroke="#333333" stroke-width="0.7"/>
<path d="M422.8,276.5 421.4,278.7 421.9,279.2 421.1,281.8 421.1,283.1 420,283.7 420.6,285.9 421,288.5 421.6,288.4 419,289.6 420.3,291.3 419,293.5 419.4,293.8 417.9,295.6 416.9,298 418.7,297.1 420.7,299.4 422.4,298.1 422.6,300.5 424.9,300.3 424.6,301.1 424.7,302.1 425.6,304 424.4,305.4 421.5,305.2 419,305.2 418.2,306.5 419.3,307.8 417.4,308.9 417.1,309.4 417.4,312.5 416.1,312.9 416,314.4 413.1,314.3 412.3,315.2 412,318.3 411.9,320 411.6,320.4 412.2,323.8 412,324.2 410.9,326.7 409.4,327.9 410.8,329.6 411.4,330 411.4,332 412.8,331 415.5,332.6 414.8,335.1 414.7,335.2 414.7,336.8 415.2,336.9 413.3,336.4 412.2,336.7 409.3,336 408.3,335.6 407.9,335 407.1,333 405.1,333.7 403.7,332.4 402.4,332 400.5,332.7 399.6,331.4 399.4,331 397.2,328.8 399.1,326.7 399.1,325.7 398.1,323.5 397.6,322.8 397.3,321.2 397.2,319.3 397.7,317.2 396.1,315.4 396.9,313.3 395.1,312.3 397,311.2 395.1,308.8 395.4,307.9 396.6,306.4 395.3,305 395.9,302.6 396.2,300.9 395.6,300.1 397.3,298.4 397.4,296 396.9,295.5 397.4,293.2 398.8,292.1 398.6,290.6 401.7,289.7 403.1,288.8 403.8,289.1 405.1,289.4 407.7,288.7 408.3,288.5 409.9,287.3 410.4,286.8 412.7,285.5 413.4,285.1 414.5,284.6 414.8,282.2 415.5,281.8 416.8,279.5 417.7,278.6 419.1,277.1 420.2,278.2 422.6,277.6" fill="none" stroke="#111" stroke-width="0.9"/>
<path d="M428.1,315.3 430.7,314.3 431.9,314 432.4,312.5 434.6,313.5 436.8,312.8 436.4,312 437.9,311 436.6,308.3 438.8,308.1 439.2,308.8 441.4,306.5 440.9,308.9 443.2,309.1 444.4,310.5 443.7,312.6 443.5,315.7 443.6,317.2 441.9,317.7 441.7,319.4 441.6,319.8 441.7,321.3 440.8,323.7 441,323.6 438.7,325.4 437.6,326.2 437.1,326.8 436.3,325 434.1,325.2 433.3,325.1 430.3,324.1 430,321.9 428.9,320.6 429.2,319.3 428.7,318.4 428.2,317.3 429.5,316.5" fill="none" stroke="#111" stroke-width="0.9"/>
<path d="M400.8,293.3 403.9,292 407,293.9 409.6,292 412.7,293.3 417.7,296.4" fill="none" stroke="#222" stroke-width="1.3"/>
<path d="M584.7,639.5 587,635 594.5,632.7 603.5,633.5 611,635 615.5,636.5 618.5,635 620,638 617,641.7 612.5,644 614.7,648.5 617,653 617.7,659 616.2,663.5 612.5,657.5 609.5,656 608,663.5 605,662 602.7,657.5 599,656 597.5,660.5 594.5,657.5 592.2,651.5 590,647 585.5,642.5Z" fill="#90ee70" stroke="#333333" stroke-width="1.0"/>
<path d="M627,678 631.2,676.5 635,678 641.2,679.5 647.5,678 653.8,679 660,677.5 666.2,676.5 670.5,676 671.5,679.5 668.8,682 662.5,683.5 657.5,683 651.2,687 646.2,688 640,685.5 633.8,685 627.5,683.5Z" fill="#90ee70" stroke="#333333" stroke-width="1.0"/>
<path d="M560,609.5 562.2,610.2 564.2,613.2 563.3,615.5 561.2,613.7Z" fill="#68bb4d" stroke="#333333" stroke-width="0.6"/>
<path d="M572,632 575.7,631.2 578,635 576.5,638.7 573.5,638 571.7,635Z" fill="#68bb4d" stroke="#333333" stroke-width="0.6"/>
<path d="M576.8,642.2 580.2,642.8 581,645.8 578,646.7Z" fill="#68bb4d" stroke="#333333" stroke-width="0.6"/>
<path d="M624.8,578.3 628.2,578 629,581 626.7,582.5 624.8,581Z" fill="#68bb4d" stroke="#333333" stroke-width="0.6"/>
<path d="M643.2,585.5 647.7,584.7 648.8,587.7 644.7,588.8Z" fill="#68bb4d" stroke="#333333" stroke-width="0.6"/>
<path d="M650,602 654.5,599.7 659.7,601.2 660.5,605 656.7,607.2 651.8,605.7Z" fill="#68bb4d" stroke="#333333" stroke-width="0.6"/>
<path d="M651.8,616.2 655.2,615.5 656.7,620 655.2,623 652.2,621.5Z" fill="#68bb4d" stroke="#333333" stroke-width="0.6"/>
<path d="M665,627.8 670.7,627.2 671.3,629.7 666.8,630.5Z" fill="#68bb4d" stroke="#333333" stroke-width="0.6"/>
<path d="M630.5,628.2 633.5,629 635,631.2 632,630.8Z" fill="#68bb4d" stroke="#333333" stroke-width="0.6"/>
<path d="M649.2,644 652.2,643.2 653.3,647 650.7,648.5Z" fill="#68bb4d" stroke="#333333" stroke-width="0.6"/>
<path d="M690.5,650 694.5,647.5 695.5,652.5 692.5,660 689.5,658Z" fill="#68bb4d" stroke="#333333" stroke-width="0.6"/>
<path d="M636.8,632.1 638.9,631.8 639.3,633.3 637.2,633.6Z" fill="#444" stroke="none" stroke-width="0"/>
<path d="M642.8,635.9 644.9,635.6 645.3,637.1 643.2,637.4Z" fill="#444" stroke="none" stroke-width="0"/>
<path d="M639.8,639.6 641.9,639.3 642.3,640.8 640.2,641.1Z" fill="#444" stroke="none" stroke-width="0"/>
<path d="M632.3,638.9 634.4,638.6 634.8,640.1 632.7,640.4Z" fill="#444" stroke="none" stroke-width="0"/>
<path d="M645.8,644.9 647.9,644.6 648.3,646.1 646.2,646.4Z" fill="#444" stroke="none" stroke-width="0"/>
<path d="M657.8,632.9 659.9,632.6 660.3,634.1 658.2,634.4Z" fill="#444" stroke="none" stroke-width="0"/>
<path d="M659.3,644.9 661.4,644.6 661.8,646.1 659.7,646.4Z" fill="#444" stroke="none" stroke-width="0"/>
<path d="M636.8,653.9 638.9,653.6 639.3,655.1 637.2,655.4Z" fill="#444" stroke="none" stroke-width="0"/>
<path d="M650.3,652.4 652.4,652.1 652.8,653.6 650.7,653.9Z" fill="#444" stroke="none" stroke-width="0"/>
<path d="M663.8,650.9 665.9,650.6 666.3,652.1 664.2,652.4Z" fill="#444" stroke="none" stroke-width="0"/>
<path d="M672.8,641.1 674.9,640.8 675.3,642.3 673.2,642.6Z" fill="#444" stroke="none" stroke-width="0"/>
<path d="M654.8,613.4 656.9,613.1 657.3,614.6 655.2,614.9Z" fill="#444" stroke="none" stroke-width="0"/>
<path d="M662.3,616.4 664.4,616.1 664.8,617.6 662.7,617.9Z" fill="#444" stroke="none" stroke-width="0"/>
<path d="M630.8,614.1 632.9,613.8 633.3,615.3 631.2,615.6Z" fill="#444" stroke="none" stroke-width="0"/>
<path d="M617.3,611.1 619.4,610.8 619.8,612.3 617.7,612.6Z" fill="#444" stroke="none" stroke-width="0"/>
<path d="M667.7,546.4 670.3,549.5 674,552.6 680.3,554.5 686.6,555.2 695.4,554.5 703,552.6 710.5,552 716.8,550.1 719.3,545.1 724.3,540.1 730,533.8 737.5,527.5 745,523.8 755,521.2 763.8,517.5 772.5,521.2 778.8,518.8 786.2,522.5 796.2,521.2 796.2,612.5 790,615 785,621.2 780,628.8 772.5,632.5 765,636.2 757.5,633.8 750,630 740,628.8 731.2,631.2 728.8,637.5 727.5,643.8 720,647.5 712.5,646.2 707.5,641.2 700,640 692.5,640 685,637.5 680,633.8 675,628.8 667.5,623.8 668.8,617.5 665.2,613 666.5,609.2 667.7,605.5 664,603 662.1,599.2 664,594.8 658.9,595.4 652.4,597.3 650.8,591.6 651.6,586.6 655.2,580.3 659.6,574.7 655.2,575.3 648.2,575.9 647.6,574.7 649.5,572.1 648.9,567.7 651.4,564 652,559.6 648.9,555.8 650.1,551.4 655.2,548.9 658.9,547 664,547.6Z" fill="#061a03" stroke="#555" stroke-width="1.0"/>
<path d="M666.5,566.5 670.3,564 675.3,561.4 682.8,560.8 689.1,561.4 695.4,562.1 701.7,561.4 700.4,563.3 694.2,564.6 689.1,567.1 686.6,569 691.6,570.3 690.4,572.1 684.1,573.4 677.8,575.3 672.8,577.2 667.7,578.4 664,577.8 659.6,578.4 657,580.9 654.5,584.1 655.8,580.3 658.9,576.5 663,573.4 665.2,569Z" fill="#fff" stroke="#777" stroke-width="0.6"/>
<path d="M756.2,583 762.5,584.5 762.5,587 757.5,585.8Z" fill="#fff" stroke="none" stroke-width="0"/>
<path d="M762.5,655 770,648.8 780,646.2 786.2,642.5 792.5,635 793.8,636.2 787.5,643.8 788.8,650 781.2,653.8 775,660 767.5,661.2 763.8,658.8Z" fill="#061a03" stroke="#555" stroke-width="1.0"/>
<path d="M303.8,670 315,668.8 325,669.5 335,670 343.8,673.8 352.5,670 360,668 367.5,672.5 373.8,668.8 382.5,670 392.5,671.2 401.2,667.5 410,664.5 417.5,666.2 422.5,672.5 427.5,671.2 432.5,670 430,677.5 423.8,683.8 422.5,690 427.5,695 427.5,700 303.8,700Z" fill="#061a03" stroke="#444" stroke-width="1.0"/>
<path d="M392.5,671.2 388.8,680 390,697.5" fill="none" stroke="#bbb" stroke-width="0.7"/>
<path d="M362.7,367.6 367.7,368.9 371.5,367.6" fill="none" stroke="#f2eef2" stroke-width="1.0" clip-path="url(#c-netherlands)"/>
<path d="M360.8,365.1 362.7,367.6 360.2,371.4" fill="none" stroke="#f2eef2" stroke-width="1.0" clip-path="url(#c-netherlands)"/>
<path d="M360.2,371.4 366.5,368.9 369,372 366.5,375.2 362.7,377.7 360.2,375.2 360.2,371.4" fill="none" stroke="#f2eef2" stroke-width="1.0" clip-path="url(#c-netherlands)"/>
<path d="M358.3,375.2 355.8,380.2 362.7,380.2 362.7,377.7" fill="none" stroke="#f2eef2" stroke-width="1.0" clip-path="url(#c-netherlands)"/>
<path d="M355.8,380.2 357,384 364,383.3 362.7,380.2" fill="none" stroke="#f2eef2" stroke-width="1.0" clip-path="url(#c-netherlands)"/>
<path d="M357,384 355.2,386.5 366.5,389" fill="none" stroke="#f2eef2" stroke-width="1.0" clip-path="url(#c-netherlands)"/>
<path d="M364,383.3 369,387.7" fill="none" stroke="#f2eef2" stroke-width="1.0" clip-path="url(#c-netherlands)"/>
<path d="M347.6,389 355.2,387.1" fill="none" stroke="#f2eef2" stroke-width="1.0" clip-path="url(#c-netherlands)"/>
<path d="M383.5,357.5 380.3,356.3 374,357.5 367.7,358.8 362.7,361.3 358.3,365.1 355.8,368.9 354.5,373.9 352.6,378.9 350.1,382.7 347.6,385.2 343.8,387.7 341.3,390.3 338.8,392.8 337.5,394.7 342.6,395.3 347.6,393.4 352.6,393.4 356.4,394.7 360.2,397.8 364,399.1 365.8,401.6 364,405.3 365.8,407.9 367.7,402.8 369,397.8 370.3,392.8 369,387.7 371.5,386.5 376.5,385.8 378.4,382.7 381.6,380.2 379.7,376.4 378.4,373.9 380.9,370.1 383.5,366.4 384.7,361.9Z" fill="none" stroke="#333333" stroke-width="1.0"/>
<path d="M337.5,394.7 337.5,405.3" fill="none" stroke="#f2eef2" stroke-width="1.0" clip-path="url(#c-belgium)"/>
<path d="M337.5,397.2 346.4,397.2" fill="none" stroke="#f2eef2" stroke-width="1.0" clip-path="url(#c-belgium)"/>
<path d="M346.4,394 346.4,405.3" fill="none" stroke="#f2eef2" stroke-width="1.0" clip-path="url(#c-belgium)"/>
<path d="M343.8,402.8 357.7,402.8" fill="none" stroke="#f2eef2" stroke-width="1.0" clip-path="url(#c-belgium)"/>
<path d="M337.5,405.3 343.8,406.6 345.1,410.4 355.2,410.4 358.3,407.2 357.7,402.8" fill="none" stroke="#f2eef2" stroke-width="1.0" clip-path="url(#c-belgium)"/>
<path d="M358.9,399.1 358.9,406.6 355.2,410.4" fill="none" stroke="#f2eef2" stroke-width="1.0" clip-path="url(#c-belgium)"/>
<path d="M335,409.1 345.1,410.4" fill="none" stroke="#f2eef2" stroke-width="1.0" clip-path="url(#c-belgium)"/>
<path d="M347.6,410.4 348.9,422.3" fill="none" stroke="#f2eef2" stroke-width="1.0" clip-path="url(#c-belgium)"/>
<path d="M355.2,410.4 355.2,424.2" fill="none" stroke="#f2eef2" stroke-width="1.0" clip-path="url(#c-belgium)"/>
<path d="M355.2,417.9 364,417.9 369,417.9" fill="none" stroke="#f2eef2" stroke-width="1.0" clip-path="url(#c-belgium)"/>
<path d="M330,397.2 337.5,394.7 342.6,395.3 347.6,393.4 352.6,393.4 356.4,394.7 360.2,397.8 364,399.1 365.8,401.6 364,405.3 365.8,407.9 370.3,409.1 371.5,414.2 369,417.9 367.7,419.8 364.6,423 364,425.5 364.6,429.2 362.7,430.5 358.9,428 355.2,424.2 352.6,420.4 348.9,422.3 345.1,421.7 346.4,417.9 343.8,415.4 340.1,411.6 335.7,409.1 333.8,406 330,405.3 327.5,402.8Z" fill="none" stroke="#333333" stroke-width="1.0"/>
<path d="M375,512.5 383.8,513.8 393.8,510 397.5,497.5" fill="none" stroke="#f2eef2" stroke-width="1.0" clip-path="url(#c-italy)"/>
<path d="M393.8,510 400,520 405,525 405,530" fill="none" stroke="#f2eef2" stroke-width="1.0" clip-path="url(#c-italy)"/>
<path d="M373.8,525 382.5,528.8 390,535 400,527.5 405,525" fill="none" stroke="#f2eef2" stroke-width="1.0" clip-path="url(#c-italy)"/>
<path d="M405,525 415,526.2 425,525 440,528.8 447.5,527.5" fill="none" stroke="#f2eef2" stroke-width="1.0" clip-path="url(#c-italy)"/>
<path d="M402.5,502.5 407.5,507.5 415,512.5 425,507.5 422.5,497.5 421.2,487.5" fill="none" stroke="#f2eef2" stroke-width="1.0" clip-path="url(#c-italy)"/>
<path d="M425,507.5 427.5,515 440,517.5 447.5,518.8" fill="none" stroke="#f2eef2" stroke-width="1.0" clip-path="url(#c-italy)"/>
<path d="M422.5,497.5 432.5,495 440,490 440,482.5" fill="none" stroke="#f2eef2" stroke-width="1.0" clip-path="url(#c-italy)"/>
<path d="M432.5,495 437.5,502.5 447.5,503.8 451.2,512.5" fill="none" stroke="#f2eef2" stroke-width="1.0" clip-path="url(#c-italy)"/>
<path d="M415,526.2 420,535 417.5,538.8" fill="none" stroke="#f2eef2" stroke-width="1.0" clip-path="url(#c-italy)"/>
<path d="M420,535 432.5,537.5 440,542.5 445,540 452.5,533.8" fill="none" stroke="#f2eef2" stroke-width="1.0" clip-path="url(#c-italy)"/>
<path d="M440,542.5 442.5,552.5 438.8,560 432.5,566.2" fill="none" stroke="#f2eef2" stroke-width="1.0" clip-path="url(#c-italy)"/>
<path d="M442.5,552.5 452.5,555 460,550 466.2,546.2" fill="none" stroke="#f2eef2" stroke-width="1.0" clip-path="url(#c-italy)"/>
<path d="M452.5,555 457.5,565 450,570 445,577.5" fill="none" stroke="#f2eef2" stroke-width="1.0" clip-path="url(#c-italy)"/>
<path d="M457.5,565 465,562.5 471.2,555" fill="none" stroke="#f2eef2" stroke-width="1.0" clip-path="url(#c-italy)"/>
<path d="M465,562.5 475,570 477.5,565" fill="none" stroke="#f2eef2" stroke-width="1.0" clip-path="url(#c-italy)"/>
<path d="M457.5,565 462.5,575 472.5,580 480,575 485,572.5" fill="none" stroke="#f2eef2" stroke-width="1.0" clip-path="url(#c-italy)"/>
<path d="M472.5,580 467.5,585 460,590" fill="none" stroke="#f2eef2" stroke-width="1.0" clip-path="url(#c-italy)"/>
<path d="M383.8,541.2 381.2,536.2 375,532.5 373.8,525 371.2,516.2 375,512.5 372.5,507.5 375,501.2 375,500 381.2,501.2 388.8,498.8 393.8,495 397.5,497.5 402.5,502.5 406.2,496.2 408.8,491.2 415,492.5 421.2,487.5 421.2,483.8 430,483.8 440,482.5 443.8,480 447.5,485 455,486.2 462.5,491.2 461.2,496.2 462.5,502.5 466.2,507.5 467.5,510 462.5,505 456.2,507.5 451.2,512.5 447.5,518.8 448.8,527.5 452.5,533.8 460,540 460,542.5 467.5,547.5 470,557.5 475,565 482.5,571.2 492.5,575 502.5,575 505,578.8 502.5,583.8 512.5,587.5 522.5,591.2 532.5,597.5 538.8,603.8 540,608.8 536.2,611.2 532.5,605 526.2,600 520,600 516.2,605 512.5,611.2 515,617.5 521.2,621.2 522.5,627.5 518.8,631.2 515,636.2 513.8,642.5 508.8,648.8 502.5,650 501.2,643.8 506.2,637.5 508.8,632.5 506.2,625 503.8,617.5 502.5,611.2 496.2,607.5 490,603.8 485,598.8 478.8,597.5 472.5,592.5 465,588.8 460,587.5 455,585 446.2,578.8 437.5,572.5 430,565 422.5,557.5 420,547.5 415,540 407.5,533.8 400,531.2 390,535 382.5,540Z" fill="none" stroke="#333333" stroke-width="1.0"/>
<path d="M622.5,522.5 625,532.5 622.5,540 626.2,542.5 640,538.8 655,536.2 665,530" fill="none" stroke="#f2eef2" stroke-width="1.0" clip-path="url(#c-bulgaria)"/>
<path d="M635,517.5 640,525 636.2,530 640,538.8" fill="none" stroke="#f2eef2" stroke-width="1.0" clip-path="url(#c-bulgaria)"/>
<path d="M640,525 652.5,520 660,511.2" fill="none" stroke="#f2eef2" stroke-width="1.0" clip-path="url(#c-bulgaria)"/>
<path d="M595,542.5 602.5,538.8 612.5,538.8 622.5,540" fill="none" stroke="#f2eef2" stroke-width="1.0" clip-path="url(#c-bulgaria)"/>
<path d="M612.5,538.8 610,547.5 612.5,557.5 616.2,565" fill="none" stroke="#f2eef2" stroke-width="1.0" clip-path="url(#c-bulgaria)"/>
<path d="M626.2,542.5 627.5,550 642.5,551.2 652.5,550" fill="none" stroke="#f2eef2" stroke-width="1.0" clip-path="url(#c-bulgaria)"/>
<path d="M610,547.5 616.2,543.8 626.2,542.5" fill="none" stroke="#f2eef2" stroke-width="1.0" clip-path="url(#c-bulgaria)"/>
<path d="M587.5,517.5 590,522.5 597.5,525 610,523.8 622.5,522.5 635,517.5 645,512.5 652.5,510 660,511.2 670,513.8 665,520 663.8,530 662.5,537.5 667.5,543.8 668.8,547 657.5,548.8 650,553.8 645,557.5 637.5,561.2 625,565 612.5,567.5 605,571.2 601.2,570 597.5,562.5 590,556.2 591.2,547.5 595,542.5 592.5,535 586.2,525Z" fill="none" stroke="#333333" stroke-width="1.0"/>
<path d="M375,502 386.2,501.2 387.5,506.2 380,508.8 374.5,507Z" fill="#c4c4c4" stroke="#999" stroke-width="0.5"/>
<path d="M451.8,466.8 455.8,466.8 456.2,470.8 452.2,471.2Z" fill="#b8b8b8" stroke="#777" stroke-width="0.5"/>
<path d="M481.2,532.5 485,536.2" fill="none" stroke="#1a1a1a" stroke-width="1.3"/>
<path d="M485.5,535.5 491.2,539.2" fill="none" stroke="#1a1a1a" stroke-width="1.3"/>
<path d="M501.2,548.8 506.2,551.8" fill="none" stroke="#1a1a1a" stroke-width="1.3"/>
<path d="M505,551.8 517.5,556.8" fill="none" stroke="#1a1a1a" stroke-width="1.3"/>
<path d="M515,554.5 522.5,558" fill="none" stroke="#1a1a1a" stroke-width="1.3"/>
<path d="M474.5,515 477,521.2" fill="none" stroke="#1a1a1a" stroke-width="1.3"/>
<path d="M478.8,520 482,527.5" fill="none" stroke="#1a1a1a" stroke-width="1.3"/>
<path d="M485,335 490,347.5 482.5,362.5 485,377.5 475,385" fill="none" stroke="#c4c4cc" stroke-width="0.7" stroke-dasharray="1.6 1.1" clip-path="url(#c-poland)"/>
<path d="M490,347.5 500,352.5 515,350 525,355" fill="none" stroke="#c4c4cc" stroke-width="0.7" stroke-dasharray="1.6 1.1" clip-path="url(#c-poland)"/>
<path d="M506.2,327.5 515,350" fill="none" stroke="#c4c4cc" stroke-width="0.7" stroke-dasharray="1.6 1.1" clip-path="url(#c-poland)"/>
<path d="M525,331.2 525,355 540,352.5 547.5,345 556.2,328.8" fill="none" stroke="#c4c4cc" stroke-width="0.7" stroke-dasharray="1.6 1.1" clip-path="url(#c-poland)"/>
<path d="M525,355 520,370 522.5,385 512.5,392.5 507.5,405 507.5,413.8" fill="none" stroke="#c4c4cc" stroke-width="0.7" stroke-dasharray="1.6 1.1" clip-path="url(#c-poland)"/>
<path d="M485,377.5 500,382.5 512.5,392.5" fill="none" stroke="#c4c4cc" stroke-width="0.7" stroke-dasharray="1.6 1.1" clip-path="url(#c-poland)"/>
<path d="M540,352.5 550,365 542.5,375 535,382.5 522.5,385" fill="none" stroke="#c4c4cc" stroke-width="0.7" stroke-dasharray="1.6 1.1" clip-path="url(#c-poland)"/>
<path d="M550,365 570,365" fill="none" stroke="#c4c4cc" stroke-width="0.7" stroke-dasharray="1.6 1.1" clip-path="url(#c-poland)"/>
<path d="M535,382.5 540,395 555,400 557.5,390 570,382.5 576.2,376.2" fill="none" stroke="#c4c4cc" stroke-width="0.7" stroke-dasharray="1.6 1.1" clip-path="url(#c-poland)"/>
<path d="M540,395 535,407.5 540,415 540,430" fill="none" stroke="#c4c4cc" stroke-width="0.7" stroke-dasharray="1.6 1.1" clip-path="url(#c-poland)"/>
<path d="M555,400 560,412.5 552.5,420 555,425" fill="none" stroke="#c4c4cc" stroke-width="0.7" stroke-dasharray="1.6 1.1" clip-path="url(#c-poland)"/>
<path d="M520,420 527.5,410 535,407.5" fill="none" stroke="#c4c4cc" stroke-width="0.7" stroke-dasharray="1.6 1.1" clip-path="url(#c-poland)"/>
<path d="M468.8,373.8 482.5,362.5" fill="none" stroke="#c4c4cc" stroke-width="0.7" stroke-dasharray="1.6 1.1" clip-path="url(#c-poland)"/>
<path d="M466.2,346.2 475,342.5 485,335 495,330 506.2,327.5 512.5,331.2 518.8,333.8 525,331.2 527.5,328.8 527.5,331.2 540,330.5 556.2,328.8 565,333.8 567.5,335 572.5,345 575,355 570,365 576.2,376.2 578.8,380 583.8,391.2 580,402.5 575,412.5 572.5,420 575,427.5 565,423.8 555,425 547.5,427.5 540,430 532.5,425 526.2,427.5 520,420 512.5,416.2 507.5,413.8 500,415 493.8,410 487.5,407.5 477.5,405 475,402.5 472.5,392.5 470,382.5 468.8,373.8 463.8,366.2 466.2,357.5Z" fill="none" stroke="#333333" stroke-width="1.0"/>
<path d="M452.5,412.5 462.5,420 470,417.5 480,422.5 477.5,432.5 487.5,442.5" fill="none" stroke="#c4c4cc" stroke-width="0.7" stroke-dasharray="1.6 1.1" clip-path="url(#c-czech)"/>
<path d="M480,422.5 495,425 500,415" fill="none" stroke="#c4c4cc" stroke-width="0.7" stroke-dasharray="1.6 1.1" clip-path="url(#c-czech)"/>
<path d="M495,425 502.5,432.5 515,430 520,420" fill="none" stroke="#c4c4cc" stroke-width="0.7" stroke-dasharray="1.6 1.1" clip-path="url(#c-czech)"/>
<path d="M502.5,432.5 505,443.8" fill="none" stroke="#c4c4cc" stroke-width="0.7" stroke-dasharray="1.6 1.1" clip-path="url(#c-czech)"/>
<path d="M462.5,420 460,430 455,440" fill="none" stroke="#c4c4cc" stroke-width="0.7" stroke-dasharray="1.6 1.1" clip-path="url(#c-czech)"/>
<path d="M475,402.5 477.5,405 487.5,407.5 493.8,410 500,415 507.5,413.8 512.5,416.2 520,420 526.2,427.5 520,432.5 512.5,440 505,443.8 497.5,442.5 487.5,442.5 477.5,442.5 470,447.5 463.8,448.8 455,440 447.5,432.5 445,425 442.5,418.8 452.5,412.5 465,406.2Z" fill="none" stroke="#333333" stroke-width="1.0"/>
<path d="M520,432.5 525,445 526.2,460" fill="none" stroke="#c4c4cc" stroke-width="0.7" stroke-dasharray="1.6 1.1" clip-path="url(#c-slovakia)"/>
<path d="M525,445 540,440 540,430" fill="none" stroke="#c4c4cc" stroke-width="0.7" stroke-dasharray="1.6 1.1" clip-path="url(#c-slovakia)"/>
<path d="M540,440 550,437.5 555,442.5" fill="none" stroke="#c4c4cc" stroke-width="0.7" stroke-dasharray="1.6 1.1" clip-path="url(#c-slovakia)"/>
<path d="M550,437.5 555,425" fill="none" stroke="#c4c4cc" stroke-width="0.7" stroke-dasharray="1.6 1.1" clip-path="url(#c-slovakia)"/>
<path d="M526.2,427.5 532.5,425 540,430 547.5,427.5 555,425 565,423.8 575,427.5 572.5,440 570,442.5 562.5,441.2 555,442.5 545,447.5 537.5,451.2 531.2,455 526.2,460 515,461.2 506.2,457.5 503.8,450 505,443.8 512.5,440 520,432.5Z" fill="none" stroke="#333333" stroke-width="1.0"/>
<path d="M515,461.2 522.5,470 520,480" fill="none" stroke="#c4c4cc" stroke-width="0.7" stroke-dasharray="1.6 1.1" clip-path="url(#c-hungary)"/>
<path d="M531.2,455 535,465 545,467.5 555,460 562.5,441.2" fill="none" stroke="#c4c4cc" stroke-width="0.7" stroke-dasharray="1.6 1.1" clip-path="url(#c-hungary)"/>
<path d="M535,465 532.5,480" fill="none" stroke="#c4c4cc" stroke-width="0.7" stroke-dasharray="1.6 1.1" clip-path="url(#c-hungary)"/>
<path d="M545,467.5 550,480" fill="none" stroke="#c4c4cc" stroke-width="0.7" stroke-dasharray="1.6 1.1" clip-path="url(#c-hungary)"/>
<path d="M555,460 565,465 567.5,470" fill="none" stroke="#c4c4cc" stroke-width="0.7" stroke-dasharray="1.6 1.1" clip-path="url(#c-hungary)"/>
<path d="M506.2,457.5 515,461.2 526.2,460 531.2,455 537.5,451.2 545,447.5 555,442.5 562.5,441.2 570,442.5 578.8,447.5 580,446.2 575,450 571.2,457.5 567.5,470 562.5,480 555,487.5 545,488.8 536.2,490 533.8,495 522.5,496.2 510,493.8 498.8,486.2 496.2,485 498.8,477.5 497.5,470 503.8,465 506.2,458.8Z" fill="none" stroke="#333333" stroke-width="1.0"/>
<path d="M590,442.5 592.5,455 585,465 590,477.5 580,485 582.5,511.2" fill="none" stroke="#c4c4cc" stroke-width="0.7" stroke-dasharray="1.6 1.1" clip-path="url(#c-romania)"/>
<path d="M592.5,455 610,457.5 620,450" fill="none" stroke="#c4c4cc" stroke-width="0.7" stroke-dasharray="1.6 1.1" clip-path="url(#c-romania)"/>
<path d="M610,457.5 615,472.5 630,475 640,465 645,450" fill="none" stroke="#c4c4cc" stroke-width="0.7" stroke-dasharray="1.6 1.1" clip-path="url(#c-romania)"/>
<path d="M615,472.5 610,490 617.5,502.5 610,523.8" fill="none" stroke="#c4c4cc" stroke-width="0.7" stroke-dasharray="1.6 1.1" clip-path="url(#c-romania)"/>
<path d="M590,477.5 610,490" fill="none" stroke="#c4c4cc" stroke-width="0.7" stroke-dasharray="1.6 1.1" clip-path="url(#c-romania)"/>
<path d="M630,475 635,490 630,502.5 635,517.5" fill="none" stroke="#c4c4cc" stroke-width="0.7" stroke-dasharray="1.6 1.1" clip-path="url(#c-romania)"/>
<path d="M617.5,502.5 630,502.5" fill="none" stroke="#c4c4cc" stroke-width="0.7" stroke-dasharray="1.6 1.1" clip-path="url(#c-romania)"/>
<path d="M635,490 652.5,487.5 658.8,472.5" fill="none" stroke="#c4c4cc" stroke-width="0.7" stroke-dasharray="1.6 1.1" clip-path="url(#c-romania)"/>
<path d="M652.5,487.5 655,500 670,497.5" fill="none" stroke="#c4c4cc" stroke-width="0.7" stroke-dasharray="1.6 1.1" clip-path="url(#c-romania)"/>
<path d="M655,500 652.5,510" fill="none" stroke="#c4c4cc" stroke-width="0.7" stroke-dasharray="1.6 1.1" clip-path="url(#c-romania)"/>
<path d="M580,446.2 590,442.5 600,443.8 605,447.5 615,441.2 622.5,433.8 626.2,431.2 635,440 643.8,450 651.2,460 653.8,470 658.8,480 660,482.5 665,481.2 675,477.5 677.5,481.2 675,490 671.2,500 670,513.8 660,511.2 652.5,510 645,512.5 635,517.5 622.5,522.5 610,523.8 597.5,525 590,522.5 587.5,517.5 582.5,511.2 577.5,512.5 571.2,508.8 568.8,500 562.5,492.5 555,487.5 562.5,480 567.5,470 571.2,457.5 575,450Z" fill="none" stroke="#333333" stroke-width="1.0"/>
<path d="M485,56.2 486.2,67.5 473.8,68.8 472.5,78.8 465,80 461.2,90 462.5,100 457.5,107.5 452.5,116.2 451.2,130 450,137.5 446.2,146.2 448.8,155 438.8,157.5 433.8,168.8 433.8,180 435,192.5 437.5,205 441.2,205 438.8,220 435,232.5 432.5,242.5 427.5,250" fill="none" stroke="#6f9a5c" stroke-width="0.6"/>
<path d="M282,328 288.5,329 293,328 299,330" fill="none" stroke="#f0ecf0" stroke-width="0.9" clip-path="url(#c-gb)"/>
<path d="M281,338 283,337 289,338 290,342 293,345" fill="none" stroke="#f0ecf0" stroke-width="0.9" clip-path="url(#c-gb)"/>
<path d="M281,338 280,342 281,345 283,347 289,344 290,342" fill="none" stroke="#f0ecf0" stroke-width="0.9" clip-path="url(#c-gb)"/>
<path d="M293,338 300,336 302,334" fill="none" stroke="#f0ecf0" stroke-width="0.9" clip-path="url(#c-gb)"/>
<path d="M293,338 294,345" fill="none" stroke="#f0ecf0" stroke-width="0.9" clip-path="url(#c-gb)"/>
<path d="M283,347 284,350 288,351 293,348 294,345" fill="none" stroke="#f0ecf0" stroke-width="0.9" clip-path="url(#c-gb)"/>
<path d="M274,340 280,342" fill="none" stroke="#f0ecf0" stroke-width="0.9" clip-path="url(#c-gb)"/>
<path d="M270,344 276,343 280,345" fill="none" stroke="#f0ecf0" stroke-width="0.9" clip-path="url(#c-gb)"/>
<path d="M276,343 274,354" fill="none" stroke="#f0ecf0" stroke-width="0.9" clip-path="url(#c-gb)"/>
<path d="M281,348 282,354 284,359" fill="none" stroke="#f0ecf0" stroke-width="0.9" clip-path="url(#c-gb)"/>
<path d="M267,323 274,325 281,320" fill="none" stroke="#f0ecf0" stroke-width="0.9" clip-path="url(#c-gb)"/>
<path d="M280,313 275,310 270,306" fill="none" stroke="#f0ecf0" stroke-width="0.9" clip-path="url(#c-gb)"/>
<path d="M268,380 270,390 274,399" fill="none" stroke="#f0ecf0" stroke-width="0.9" clip-path="url(#c-gb)"/>
<path d="M258,386 260,398" fill="none" stroke="#f0ecf0" stroke-width="0.9" clip-path="url(#c-gb)"/>
<path d="M244,390 248,400" fill="none" stroke="#f0ecf0" stroke-width="0.9" clip-path="url(#c-gb)"/>
<path d="M256,356 264,366 266,374" fill="none" stroke="#f0ecf0" stroke-width="0.9" clip-path="url(#c-gb)"/>
<path d="M285,360 293.6,360" fill="none" stroke="#f0ecf0" stroke-width="0.9" clip-path="url(#c-gb)"/>
<path d="M280,386 274,388 270,390" fill="none" stroke="#f0ecf0" stroke-width="0.9" clip-path="url(#c-gb)"/>
<path d="M267.5,244.5 277.5,247.5 286.2,248 287.5,251.2 280,257.5 272.5,262.5 277.5,265 285,266.2 293.8,268 296.2,271.2 292.5,277.5 287.5,285 282.5,288.8 277.5,290.5 282.5,293.8 285,298 288.8,302.5 291.2,308.8 292,317.5 293.8,323.8 297.5,327.5 301.2,332.5 302.5,340 303.8,346.2 304,350 306,356 305,362 312,361 318,365 320,371 318,378 314,382 310,386 305,389 309,390 313,392 313.6,395 309,398 304,399 299,400.4 292,400 286,399 280,400 274,399 268,400 262,398 256,399 252,403 248,400 242,400 236,402 230,404 226,401 231,399 237,395 244,390 246,387 252,387 258,386 263,383 268,380 270,377 265,380 259,381 254,380 250,377 244,375 239,373 238,369 244,367 250,364 255,361 256,356 257,352 253,350 250,347 251,344 254,343 256,347 262,349 268,348 271,344 270,339 272,334 273.8,333.8 270,330 266.2,325 270,318.8 267.5,316.2 260,317.5 255,315 251.2,311.2 252.5,305 255,300 258.8,296.2 260,290 256.2,285 258.8,277.5 255,270 256.2,262.5 261.2,257.5 263.8,250Z" fill="none" stroke="#333333" stroke-width="1.0"/>
<path d="M151.3,77.5 151.9,78.7 154.2,77.9 154.8,78.6 156.1,78.8 158.1,78.7 159.5,81 159.9,79.2 160.1,77.9 161.9,76.9 162.9,74.1 164.6,74.8 165.4,75.7 165.7,75.9 167.3,75.8 168,74.6 169.3,73 169.7,73.6 170.9,71.3 169.9,72 169,70.9 167.4,69 168.3,67.7 166.1,67.3 165.1,67.4 163.6,67.1 161.3,65.9 160.3,65.9 159.7,64.3 157.1,65.2 157.4,62.8 155.8,61.8 156.7,62.8 158,60.8 159.5,61 159.6,59.1 161.3,59.9 162.4,57.1 163.8,57.4 164.6,56.4 165.3,55.2 166.8,54.8 170,54.8 169.5,54 170.9,53.2 171.8,51.7 173.1,52.1 174.7,51.8 177,52.8 177.7,53.5 177.3,54.6 179.4,54.6 179.9,56.7 180,58.9 180.5,58.9 179.9,61.4 181.9,61.8 181.4,64.3 179.8,65.4 180.1,66.9 180.2,67.2 180.5,69.6 178.7,70 177.4,71" fill="none" stroke="#111" stroke-width="0.9"/>
<path d="M451.2,137.5 462.5,146.2 472.5,153.8 485,155 495,162.5" fill="none" stroke="#8fd276" stroke-width="0.6" clip-path="url(#c-sweden)"/>
<path d="M435,192.5 445,200 457.5,202.5 465,187.5 482.5,190" fill="none" stroke="#8fd276" stroke-width="0.6" clip-path="url(#c-sweden)"/>
<path d="M435,247.5 445,248.8 448.8,256.2 456.2,250 462.5,257.5 460,267.5 467.5,268.8 470,275 477.5,272.5 482.5,267.5" fill="none" stroke="#8fd276" stroke-width="0.6" clip-path="url(#c-sweden)"/>
<path d="M456.2,250 458.8,232.5 470,233.8 480,225 485,218.8" fill="none" stroke="#8fd276" stroke-width="0.6" clip-path="url(#c-sweden)"/>
<path d="M460,267.5 453.8,270 451.2,282.5 447.5,288.8 452.5,292.5 451.2,300" fill="none" stroke="#8fd276" stroke-width="0.6" clip-path="url(#c-sweden)"/>
<path d="M451.2,300 460,298.8 470,306.2" fill="none" stroke="#8fd276" stroke-width="0.6" clip-path="url(#c-sweden)"/>
<path d="M490,252.5 487.5,240 496.2,227.5" fill="none" stroke="#8fd276" stroke-width="0.6" clip-path="url(#c-sweden)"/>
<path d="M370,213 375,212.5 380,211 383,212.5 386,213 390,210 393,207" fill="none" stroke="#151515" stroke-width="1.1"/>
<path d="M386,213 389,216 391,215" fill="none" stroke="#151515" stroke-width="1.1"/>
<path d="M383,212.5 384,208" fill="none" stroke="#151515" stroke-width="1.1"/>
<path d="M374,228.5 378,227 382,226 385,225.5 388,224" fill="none" stroke="#151515" stroke-width="1.1"/>
<path d="M382,226 384,229" fill="none" stroke="#151515" stroke-width="1.1"/>
<path d="M371,197 376,196.5 380,196 384,197 387,198" fill="none" stroke="#151515" stroke-width="1.1"/>
<path d="M372,242 375,243 378,243 382,241" fill="none" stroke="#151515" stroke-width="1.1"/>
<path d="M372,220 377,219 380,220.5" fill="none" stroke="#151515" stroke-width="1.1"/>
<path d="M373,205 378,204 382,205.5" fill="none" stroke="#151515" stroke-width="1.1"/>
<path d="M373,236 378,235" fill="none" stroke="#151515" stroke-width="1.1"/>
<path d="M416,166 419,168 422,169 424,166.5 426,164" fill="none" stroke="#151515" stroke-width="1.1"/>
<path d="M402,172 406,173 409,171" fill="none" stroke="#151515" stroke-width="1.1"/>
<path d="M393,178 397,180 400,178.5" fill="none" stroke="#151515" stroke-width="1.1"/>
<path d="M384,186 388,188 391,187" fill="none" stroke="#151515" stroke-width="1.1"/>
<path d="M377,192 381,192.5" fill="none" stroke="#151515" stroke-width="1.1"/>
<path d="M487.9,218.4 490.1,218.2 490.4,221.1 491.1,219.5 492.6,219.4 494.6,220.2 495.6,221.8 495.5,223 497.8,223 499.2,224.4 499.1,225.2 498.2,228.1 499.4,230.2 500.3,229.9 502.4,230.3 501.7,232.6 502.8,233.3 501.8,235.1 502,236.5 500.6,237.7 499.3,238.9 497.9,239.2 499.4,241.5 498.2,243.1 496.9,243.4 496.6,245.8 494.6,245.8 493.3,247 494.8,248.5 492.4,249.5 491.7,250.3 491.6,251.4 488.6,252.3 489.1,253.4 488.8,255.3 487.7,256.1 486.8,256.7 484.7,256.1 484.5,257.8 483,259.5 482.3,260.8 483,261.3 482.4,262.9 482.5,264 484.8,265.4 484.8,266.5 483.3,268.9 482.5,270.5" fill="none" stroke="#111" stroke-width="1.0"/>
<path d="M428.5,251.1 426.7,252.6 428.1,253.8 428.1,255.8 429,257.6 428.8,258 430.1,259.6 429.5,260.5 429.7,262.3 430,263.1 431.4,264.1 431.7,265.9 432.3,267.2 431.7,269.6 433.2,270.4 434.3,272.4 432.8,273.7 435.2,275.2 435,275.2 435.1,277.2 434.7,278.6 437.2,279.4 438.1,280.9 438.1,283 437.3,283.8 438.5,285.3 438.5,286.1 440.9,288.1 441.9,287.9 442.1,289.5 441.2,291.3" fill="none" stroke="#111" stroke-width="1.0"/>
<path d="M507.4,132.9 507.4,134.5 507.8,136 508.3,137 509.6,138.3 508.7,139.9 510.3,141.8 509.6,143.4 508.4,145.6 508.9,145.9 507.6,148.4 508.1,150 506.8,151.6 508,152.1 506.7,153.3 506.8,154.8 504.8,155.3 503.9,157.6 502.7,159 501.3,160.2 501.2,160.1 498.8,161.4 497.7,162.3 496.9,163.8 496.5,164.3 494.7,164.4 494.3,166.9 493.7,167.5 492.2,168.2 491.3,170.2 489.7,170 489.9,171.5 489.1,172.7 487.5,174.1 487,176 485.3,175.7 485.7,176.9 485.9,178.5 485.5,181.4 484.9,182.9 483.5,183.7 483.4,185.6 483.2,187.1 483.1,187.8 482.1,189.3 483.5,191.2 481.7,193.7 481.4,193.7 482.2,196.5" fill="none" stroke="#111" stroke-width="0.9"/>
<path d="M520.1,196.1 522.1,196.6 521.8,199.3 520.2,199.8 521.6,201.2 520.4,202.7 522.2,204 523.1,205.2 522.9,207.1 522.4,208.6 522.8,208.6 523.1,211.3 526.1,210.8 525.2,213.2 526.4,213.4 526.5,214.2 529,214.2 528.1,216.4 530.3,216.7 532.2,216.8 533.3,217.9 534.3,217.9 534.9,218.8 535.6,220 537.1,220.6 540.3,219.8 539.9,221.1 541.1,221.6 542.3,222 543.3,221.8 544.9,221.7 546.4,220.6 547.6,220.5 548.7,219.9 550.2,219.4 550.9,217.8 552.9,217.7 553.8,215 555.8,215.8 556.9,214.6 558,214.9 559.1,211.7 560.8,212.5 561.5,212.6 562.9,211.1 564.8,211 566,209.4 566.9,209.4 567.9,209.1 569.3,208 571.2,207.2 572.9,207.5 574.1,206.3 574.7,206.2 575.5,205.5 576.8,203.4 577.3,203.2 579.5,202 580.7,203.5 580.6,200.7 582.4,201.4 584.1,199" fill="none" stroke="#111" stroke-width="1.0"/>
</g>
</svg>
<div id="frame"></div><div style="position:absolute;left:0;top:0;width:800px;height:1px;background:#b4b4b4;z-index:7"></div><div style="position:absolute;left:0;top:5px;width:1px;height:237px;background:#8c8c8c;z-index:7"></div><div style="position:absolute;left:0;top:588px;width:1px;height:112px;background:#8c8c8c;z-index:7"></div>
<div id="title"><div class="flag"></div><svg class="stars" width="53" height="35" viewBox="0 0 53 35" style="position:absolute;left:0;top:0" fill="#f4ea96"><polygon points="27.5,1.1 28.2,3.0 30.3,3.1 28.6,4.4 29.2,6.3 27.5,5.2 25.8,6.3 26.4,4.4 24.7,3.1 26.8,3.0"/><polygon points="34.8,3.0 35.5,5.0 37.5,5.0 35.9,6.3 36.5,8.3 34.8,7.1 33.0,8.3 33.6,6.3 32.0,5.0 34.0,5.0"/><polygon points="40.1,8.3 40.8,10.3 42.8,10.4 41.2,11.6 41.8,13.6 40.1,12.4 38.4,13.6 38.9,11.6 37.3,10.4 39.4,10.3"/><polygon points="42.0,15.6 42.7,17.5 44.8,17.6 43.1,18.9 43.7,20.8 42.0,19.7 40.3,20.8 40.9,18.9 39.2,17.6 41.3,17.5"/><polygon points="40.1,22.8 40.8,24.8 42.8,24.9 41.2,26.1 41.8,28.1 40.1,26.9 38.4,28.1 38.9,26.1 37.3,24.9 39.4,24.8"/><polygon points="34.8,28.2 35.5,30.1 37.5,30.2 35.9,31.4 36.5,33.4 34.8,32.3 33.0,33.4 33.6,31.4 32.0,30.2 34.0,30.1"/><polygon points="27.5,30.1 28.2,32.0 30.3,32.1 28.6,33.4 29.2,35.3 27.5,34.2 25.8,35.3 26.4,33.4 24.7,32.1 26.8,32.0"/><polygon points="20.3,28.2 21.0,30.1 23.0,30.2 21.4,31.4 22.0,33.4 20.3,32.3 18.5,33.4 19.1,31.4 17.5,30.2 19.5,30.1"/><polygon points="14.9,22.9 15.6,24.8 17.7,24.9 16.1,26.1 16.6,28.1 14.9,27.0 13.2,28.1 13.8,26.1 12.2,24.9 14.2,24.8"/><polygon points="13.0,15.6 13.7,17.5 15.8,17.6 14.1,18.9 14.7,20.8 13.0,19.7 11.3,20.8 11.9,18.9 10.2,17.6 12.3,17.5"/><polygon points="14.9,8.3 15.6,10.3 17.7,10.4 16.1,11.6 16.6,13.6 14.9,12.4 13.2,13.6 13.8,11.6 12.2,10.4 14.2,10.3"/><polygon points="20.2,3.0 21.0,5.0 23.0,5.0 21.4,6.3 22.0,8.3 20.2,7.1 18.5,8.3 19.1,6.3 17.5,5.0 19.5,5.0"/></svg><span class="t eu">Eupedia</span><span class="t mo">map of</span><span class="t gr">% of Muslims in Europe by region (c. 2013-17)</span></div>
<div id="leg">
<div class="sw" style="top:246px;background:#061a03"></div><div class="lb" style="top:246px">&gt; 20%</div>
<div class="sw" style="top:278px;background:#0f330a"></div><div class="lb" style="top:278px">17.5 - 20%</div>
<div class="sw" style="top:310px;background:#2a6a16"></div><div class="lb" style="top:310px">15 - 17.5%</div>
<div class="sw" style="top:341px;background:#33791f"></div><div class="lb" style="top:341px">12.5 - 15%</div>
<div class="sw" style="top:373px;background:#3f8c2b"></div><div class="lb" style="top:373px">10 - 12.5%</div>
<div class="sw" style="top:405px;background:#4fa831"></div><div class="lb" style="top:405px">7.5 - 10%</div>
<div class="sw" style="top:437px;background:#68bb4d"></div><div class="lb" style="top:437px">5 - 7.5%</div>
<div class="sw" style="top:469px;background:#90ee70"></div><div class="lb" style="top:469px">2.5 - 5%</div>
<div class="sw" style="top:500px;background:#b8f2a8"></div><div class="lb" style="top:500px">1 - 2.5%</div>
<div class="sw" style="top:530px;background:#dcf8d6"></div><div class="lb" style="top:530px">0.5 - 1%</div>
<div class="sw" style="top:562px;background:#ecf8e6"></div><div class="lb" style="top:562px">&lt; 0.5%</div>
</div>
<div id="bl">
<div class="sw" style="left:8px;background:#b8f2a8"></div><span class="lb" style="left:31px;letter-spacing:-1px">USA</span>
<div class="sw" style="left:74px;background:#33791f"></div><span class="lb" style="left:97px;letter-spacing:0.4px">India</span>
<div class="sw" style="left:147px;background:#b8f2a8"></div><span class="lb" style="left:170px;letter-spacing:0.2px">China</span>
<div class="sw" style="left:223px;background:#ecf8e6"></div><span class="lb" style="left:246px;letter-spacing:1px">Japan</span>
</div>
</body>
</html>
